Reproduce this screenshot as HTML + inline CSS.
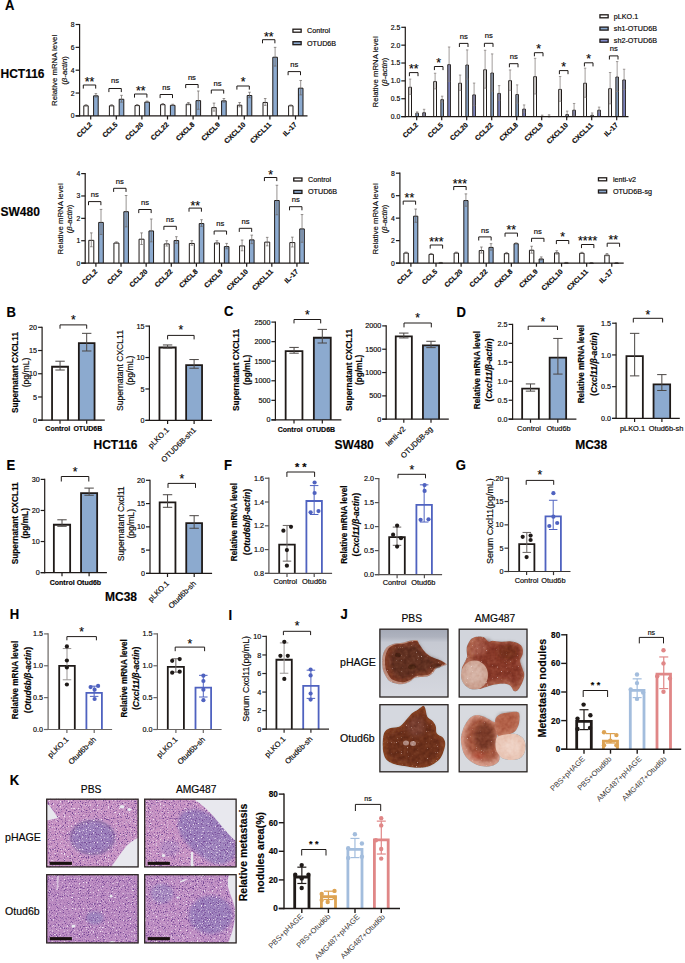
<!DOCTYPE html>
<html><head><meta charset="utf-8"><title>Figure</title>
<style>
html,body{margin:0;padding:0;background:#fff;}
body{width:685px;height:963px;overflow:hidden;}
svg{display:block;font-family:"Liberation Sans",sans-serif;}
text{stroke:#1f1a18;stroke-width:0.18px;}
</style></head><body>
<svg width="685" height="963" viewBox="0 0 685 963">
<defs><filter id="soft" x="-10%" y="-10%" width="120%" height="120%"><feGaussianBlur stdDeviation="0.7"/></filter>
<filter id="soft2" x="-20%" y="-20%" width="140%" height="140%"><feGaussianBlur stdDeviation="1.6"/></filter>
<linearGradient id="bgTL" x1="0" y1="0" x2="0" y2="1"><stop offset="0" stop-color="#a4a9b6"/><stop offset="0.12" stop-color="#aeb2be"/><stop offset="0.2" stop-color="#c6c9d2"/><stop offset="1" stop-color="#d6d8df"/></linearGradient>
<radialGradient id="livTL" cx="0.45" cy="0.45" r="0.6"><stop offset="0" stop-color="#6e3524"/><stop offset="0.7" stop-color="#7c3e2a"/><stop offset="1" stop-color="#a86a55"/></radialGradient>
<radialGradient id="livTR" cx="0.6" cy="0.35" r="0.65"><stop offset="0" stop-color="#7a3222"/><stop offset="0.6" stop-color="#8c4232"/><stop offset="1" stop-color="#b06a58"/></radialGradient>
<radialGradient id="tumTR" cx="0.5" cy="0.45" r="0.55"><stop offset="0" stop-color="#ead3ca"/><stop offset="0.75" stop-color="#dfbdb0"/><stop offset="1" stop-color="#c99a8a"/></radialGradient>
<radialGradient id="livBL" cx="0.5" cy="0.55" r="0.6"><stop offset="0" stop-color="#74381f"/><stop offset="0.75" stop-color="#7c3c23"/><stop offset="1" stop-color="#8e4a2e"/></radialGradient>
<radialGradient id="livBR" cx="0.55" cy="0.45" r="0.6"><stop offset="0" stop-color="#8a4230"/><stop offset="0.6" stop-color="#9e5240"/><stop offset="1" stop-color="#d49a88"/></radialGradient>
<radialGradient id="tumBR" cx="0.5" cy="0.5" r="0.55"><stop offset="0" stop-color="#efd7ca"/><stop offset="0.8" stop-color="#e6c7b8"/><stop offset="1" stop-color="#d9ae9c"/></radialGradient>
<clipPath id="ph0"><rect x="379.3" y="628.6" width="69.3" height="69"/></clipPath>
<clipPath id="ph1"><rect x="458.6" y="628.6" width="69" height="69"/></clipPath>
<clipPath id="ph2"><rect x="379.3" y="704.1" width="69.3" height="68.3"/></clipPath>
<clipPath id="ph3"><rect x="458.6" y="704.1" width="69" height="68.3"/></clipPath>
<filter id="b1" x="-20%" y="-20%" width="140%" height="140%"><feGaussianBlur stdDeviation="0.5"/></filter>
<filter id="b2" x="-30%" y="-30%" width="160%" height="160%"><feGaussianBlur stdDeviation="2.2"/></filter>
<filter id="b3" x="-30%" y="-30%" width="160%" height="160%"><feGaussianBlur stdDeviation="3.5"/></filter>
<filter id="ltex" x="0" y="0" width="100%" height="100%" color-interpolation-filters="sRGB"><feTurbulence type="fractalNoise" baseFrequency="0.25" numOctaves="2" seed="4" result="n"/><feColorMatrix in="n" type="matrix" values="0.35 0 0 0 0.3  0.35 0 0 0 0.3  0.35 0 0 0 0.3  0 0 0 0 1" result="g"/><feBlend in="g" in2="SourceGraphic" mode="soft-light" result="b"/><feComposite in="b" in2="SourceGraphic" operator="in"/></filter>
<filter id="glint" x="0" y="0" width="100%" height="100%" color-interpolation-filters="sRGB"><feTurbulence type="fractalNoise" baseFrequency="0.8" numOctaves="1" seed="9" result="n"/><feColorMatrix in="n" type="matrix" values="0 0 0 0 1  0 0 0 0 0.95  0 0 0 0 0.95  12 0 0 0 -8.4"/><feComposite in2="SourceGraphic" operator="in"/><feGaussianBlur stdDeviation="0.3"/></filter>
<clipPath id="hk0"><rect x="46.1" y="798.6" width="92.6" height="68.9"/></clipPath>
<clipPath id="hk1"><rect x="144.1" y="798.6" width="92.6" height="68.9"/></clipPath>
<clipPath id="hk2"><rect x="46.1" y="874.1" width="92.6" height="69.4"/></clipPath>
<clipPath id="hk3"><rect x="144.1" y="874.1" width="92.6" height="69.4"/></clipPath>
<filter id="tex" x="0" y="0" width="100%" height="100%" color-interpolation-filters="sRGB"><feTurbulence type="fractalNoise" baseFrequency="0.87" numOctaves="1" seed="7" result="n1"/><feColorMatrix in="n1" type="matrix" values="0 0 0 0 0.45  0 0 0 0 0.27  0 0 0 0 0.58  6 0 0 0 -3.3" result="dk"/><feTurbulence type="fractalNoise" baseFrequency="0.73" numOctaves="1" seed="21" result="n2"/><feColorMatrix in="n2" type="matrix" values="0 0 0 0 0.95  0 0 0 0 0.9  0 0 0 0 0.95  6 0 0 0 -3.6" result="wh"/><feGaussianBlur in="dk" stdDeviation="0.35" result="dkb"/><feGaussianBlur in="wh" stdDeviation="0.35" result="whb"/><feMerge result="m"><feMergeNode in="SourceGraphic"/><feMergeNode in="dkb"/><feMergeNode in="whb"/></feMerge><feComposite in="m" in2="SourceGraphic" operator="in"/></filter></defs>
<rect width="685" height="963" fill="#fff"/>
<text transform="translate(5.07 10.3) scale(0.92 1)" font-size="14.2" font-weight="bold">A</text>
<text x="0.5" y="78" font-size="12" font-weight="bold">HCT116</text>
<text x="0.5" y="216" font-size="12" font-weight="bold">SW480</text>
<path d="M83.8 115.9V105.77H88.2V115.9" fill="#fff" stroke="#1f1a18" stroke-width="1"/>
<path d="M93.6 115.9V95.84H98.2V115.9" fill="#8caacf" stroke="#1f1a18" stroke-width="1"/>
<line x1="86" y1="104.7" x2="86" y2="105.85" stroke="#6a6462" stroke-width="0.7"/>
<line x1="84.7" y1="104.7" x2="87.3" y2="104.7" stroke="#6a6462" stroke-width="0.7"/>
<line x1="84.7" y1="105.85" x2="87.3" y2="105.85" stroke="#6a6462" stroke-width="0.7"/>
<line x1="95.9" y1="93.62" x2="95.9" y2="97.05" stroke="#6a6462" stroke-width="0.7"/>
<line x1="94.6" y1="93.62" x2="97.2" y2="93.62" stroke="#6a6462" stroke-width="0.7"/>
<line x1="94.6" y1="97.05" x2="97.2" y2="97.05" stroke="#6a6462" stroke-width="0.7"/>
<path d="M109.4 115.9V105.77H113.8V115.9" fill="#fff" stroke="#1f1a18" stroke-width="1"/>
<path d="M119.2 115.9V99.26H123.8V115.9" fill="#8caacf" stroke="#1f1a18" stroke-width="1"/>
<line x1="111.6" y1="104.7" x2="111.6" y2="105.85" stroke="#6a6462" stroke-width="0.7"/>
<line x1="110.3" y1="104.7" x2="112.9" y2="104.7" stroke="#6a6462" stroke-width="0.7"/>
<line x1="110.3" y1="105.85" x2="112.9" y2="105.85" stroke="#6a6462" stroke-width="0.7"/>
<line x1="121.5" y1="95.34" x2="121.5" y2="102.19" stroke="#6a6462" stroke-width="0.7"/>
<line x1="120.2" y1="95.34" x2="122.8" y2="95.34" stroke="#6a6462" stroke-width="0.7"/>
<line x1="120.2" y1="102.19" x2="122.8" y2="102.19" stroke="#6a6462" stroke-width="0.7"/>
<path d="M135 115.9V105.55H139.4V115.9" fill="#fff" stroke="#1f1a18" stroke-width="1"/>
<path d="M144.8 115.9V102.12H149.4V115.9" fill="#8caacf" stroke="#1f1a18" stroke-width="1"/>
<line x1="137.2" y1="104.48" x2="137.2" y2="105.62" stroke="#6a6462" stroke-width="0.7"/>
<line x1="135.9" y1="104.48" x2="138.5" y2="104.48" stroke="#6a6462" stroke-width="0.7"/>
<line x1="135.9" y1="105.62" x2="138.5" y2="105.62" stroke="#6a6462" stroke-width="0.7"/>
<line x1="147.1" y1="101.05" x2="147.1" y2="102.19" stroke="#6a6462" stroke-width="0.7"/>
<line x1="145.8" y1="101.05" x2="148.4" y2="101.05" stroke="#6a6462" stroke-width="0.7"/>
<line x1="145.8" y1="102.19" x2="148.4" y2="102.19" stroke="#6a6462" stroke-width="0.7"/>
<path d="M160.6 115.9V104.63H165V115.9" fill="#fff" stroke="#1f1a18" stroke-width="1"/>
<path d="M170.4 115.9V105.32H175V115.9" fill="#8caacf" stroke="#1f1a18" stroke-width="1"/>
<line x1="162.8" y1="103.56" x2="162.8" y2="104.7" stroke="#6a6462" stroke-width="0.7"/>
<line x1="161.5" y1="103.56" x2="164.1" y2="103.56" stroke="#6a6462" stroke-width="0.7"/>
<line x1="161.5" y1="104.7" x2="164.1" y2="104.7" stroke="#6a6462" stroke-width="0.7"/>
<line x1="172.7" y1="104.25" x2="172.7" y2="105.39" stroke="#6a6462" stroke-width="0.7"/>
<line x1="171.4" y1="104.25" x2="174" y2="104.25" stroke="#6a6462" stroke-width="0.7"/>
<line x1="171.4" y1="105.39" x2="174" y2="105.39" stroke="#6a6462" stroke-width="0.7"/>
<path d="M186.2 115.9V104.18H190.6V115.9" fill="#fff" stroke="#1f1a18" stroke-width="1"/>
<path d="M196 115.9V100.63H200.6V115.9" fill="#8caacf" stroke="#1f1a18" stroke-width="1"/>
<line x1="188.4" y1="102.53" x2="188.4" y2="104.82" stroke="#6a6462" stroke-width="0.7"/>
<line x1="187.1" y1="102.53" x2="189.7" y2="102.53" stroke="#6a6462" stroke-width="0.7"/>
<line x1="187.1" y1="104.82" x2="189.7" y2="104.82" stroke="#6a6462" stroke-width="0.7"/>
<line x1="198.3" y1="90.99" x2="198.3" y2="109.27" stroke="#6a6462" stroke-width="0.7"/>
<line x1="197" y1="90.99" x2="199.6" y2="90.99" stroke="#6a6462" stroke-width="0.7"/>
<line x1="197" y1="109.27" x2="199.6" y2="109.27" stroke="#6a6462" stroke-width="0.7"/>
<path d="M211.8 115.9V107.6H216.2V115.9" fill="#fff" stroke="#1f1a18" stroke-width="1"/>
<path d="M221.6 115.9V100.86H226.2V115.9" fill="#8caacf" stroke="#1f1a18" stroke-width="1"/>
<line x1="214" y1="103.1" x2="214" y2="111.1" stroke="#6a6462" stroke-width="0.7"/>
<line x1="212.7" y1="103.1" x2="215.3" y2="103.1" stroke="#6a6462" stroke-width="0.7"/>
<line x1="212.7" y1="111.1" x2="215.3" y2="111.1" stroke="#6a6462" stroke-width="0.7"/>
<line x1="223.9" y1="98.53" x2="223.9" y2="102.19" stroke="#6a6462" stroke-width="0.7"/>
<line x1="222.6" y1="98.53" x2="225.2" y2="98.53" stroke="#6a6462" stroke-width="0.7"/>
<line x1="222.6" y1="102.19" x2="225.2" y2="102.19" stroke="#6a6462" stroke-width="0.7"/>
<path d="M237.4 115.9V105.2H241.8V115.9" fill="#fff" stroke="#1f1a18" stroke-width="1"/>
<path d="M247.2 115.9V95.49H251.8V115.9" fill="#8caacf" stroke="#1f1a18" stroke-width="1"/>
<line x1="239.6" y1="102.53" x2="239.6" y2="106.87" stroke="#6a6462" stroke-width="0.7"/>
<line x1="238.3" y1="102.53" x2="240.9" y2="102.53" stroke="#6a6462" stroke-width="0.7"/>
<line x1="238.3" y1="106.87" x2="240.9" y2="106.87" stroke="#6a6462" stroke-width="0.7"/>
<line x1="249.5" y1="92.25" x2="249.5" y2="97.73" stroke="#6a6462" stroke-width="0.7"/>
<line x1="248.2" y1="92.25" x2="250.8" y2="92.25" stroke="#6a6462" stroke-width="0.7"/>
<line x1="248.2" y1="97.73" x2="250.8" y2="97.73" stroke="#6a6462" stroke-width="0.7"/>
<path d="M263 115.9V102.46H267.4V115.9" fill="#fff" stroke="#1f1a18" stroke-width="1"/>
<path d="M272.8 115.9V57.22H277.4V115.9" fill="#8caacf" stroke="#1f1a18" stroke-width="1"/>
<line x1="265.2" y1="98.53" x2="265.2" y2="105.39" stroke="#6a6462" stroke-width="0.7"/>
<line x1="263.9" y1="98.53" x2="266.5" y2="98.53" stroke="#6a6462" stroke-width="0.7"/>
<line x1="263.9" y1="105.39" x2="266.5" y2="105.39" stroke="#6a6462" stroke-width="0.7"/>
<line x1="275.1" y1="47.35" x2="275.1" y2="66.09" stroke="#6a6462" stroke-width="0.7"/>
<line x1="273.8" y1="47.35" x2="276.4" y2="47.35" stroke="#6a6462" stroke-width="0.7"/>
<line x1="273.8" y1="66.09" x2="276.4" y2="66.09" stroke="#6a6462" stroke-width="0.7"/>
<path d="M288.6 115.9V105.77H293V115.9" fill="#fff" stroke="#1f1a18" stroke-width="1"/>
<path d="M298.4 115.9V88.18H303V115.9" fill="#8caacf" stroke="#1f1a18" stroke-width="1"/>
<line x1="290.8" y1="104.93" x2="290.8" y2="105.62" stroke="#6a6462" stroke-width="0.7"/>
<line x1="289.5" y1="104.93" x2="292.1" y2="104.93" stroke="#6a6462" stroke-width="0.7"/>
<line x1="289.5" y1="105.62" x2="292.1" y2="105.62" stroke="#6a6462" stroke-width="0.7"/>
<line x1="300.7" y1="80.48" x2="300.7" y2="94.88" stroke="#6a6462" stroke-width="0.7"/>
<line x1="299.4" y1="80.48" x2="302" y2="80.48" stroke="#6a6462" stroke-width="0.7"/>
<line x1="299.4" y1="94.88" x2="302" y2="94.88" stroke="#6a6462" stroke-width="0.7"/>
<path d="M83.3 88.6V85H95.7V88.6" fill="none" stroke="#1f1a18" stroke-width="1"/>
<text x="89.5" y="86.4" font-size="12.31" text-anchor="middle">**</text>
<path d="M108.9 92.1V88.5H121.3V92.1" fill="none" stroke="#1f1a18" stroke-width="1"/>
<text x="115.1" y="83.35" font-size="7.6" text-anchor="middle">ns</text>
<path d="M134.5 97.6V94H146.9V97.6" fill="none" stroke="#1f1a18" stroke-width="1"/>
<text x="140.7" y="95.4" font-size="12.31" text-anchor="middle">**</text>
<path d="M160.1 98.1V94.5H172.5V98.1" fill="none" stroke="#1f1a18" stroke-width="1"/>
<text x="166.3" y="89.85" font-size="7.6" text-anchor="middle">ns</text>
<path d="M185.7 88.1V84.5H198.1V88.1" fill="none" stroke="#1f1a18" stroke-width="1"/>
<text x="191.9" y="80.05" font-size="7.6" text-anchor="middle">ns</text>
<path d="M211.3 93.6V90H223.7V93.6" fill="none" stroke="#1f1a18" stroke-width="1"/>
<text x="217.5" y="85.75" font-size="7.6" text-anchor="middle">ns</text>
<path d="M236.9 89.6V86H249.3V89.6" fill="none" stroke="#1f1a18" stroke-width="1"/>
<text x="243.1" y="86.4" font-size="12.31" text-anchor="middle">*</text>
<path d="M262.5 43.3V39.7H274.9V43.3" fill="none" stroke="#1f1a18" stroke-width="1"/>
<text x="268.7" y="40.7" font-size="12.31" text-anchor="middle">**</text>
<path d="M288.1 75.2V71.6H300.5V75.2" fill="none" stroke="#1f1a18" stroke-width="1"/>
<text x="294.3" y="66.85" font-size="7.6" text-anchor="middle">ns</text>
<line x1="79.6" y1="23.9" x2="79.6" y2="116.5" stroke="#1f1a18" stroke-width="1.2"/>
<line x1="75.6" y1="115.9" x2="79.6" y2="115.9" stroke="#1f1a18" stroke-width="1.2"/>
<text x="74.6" y="118.35" font-size="6.8" text-anchor="end">0</text>
<line x1="75.6" y1="93.05" x2="79.6" y2="93.05" stroke="#1f1a18" stroke-width="1.2"/>
<text x="74.6" y="95.5" font-size="6.8" text-anchor="end">2</text>
<line x1="75.6" y1="70.2" x2="79.6" y2="70.2" stroke="#1f1a18" stroke-width="1.2"/>
<text x="74.6" y="72.65" font-size="6.8" text-anchor="end">4</text>
<line x1="75.6" y1="47.35" x2="79.6" y2="47.35" stroke="#1f1a18" stroke-width="1.2"/>
<text x="74.6" y="49.8" font-size="6.8" text-anchor="end">6</text>
<line x1="75.6" y1="24.5" x2="79.6" y2="24.5" stroke="#1f1a18" stroke-width="1.2"/>
<text x="74.6" y="26.95" font-size="6.8" text-anchor="end">8</text>
<line x1="75.6" y1="115.9" x2="307.5" y2="115.9" stroke="#1f1a18" stroke-width="1.2"/>
<line x1="90.7" y1="115.9" x2="90.7" y2="119.5" stroke="#1f1a18" stroke-width="1.2"/>
<line x1="116.3" y1="115.9" x2="116.3" y2="119.5" stroke="#1f1a18" stroke-width="1.2"/>
<line x1="141.9" y1="115.9" x2="141.9" y2="119.5" stroke="#1f1a18" stroke-width="1.2"/>
<line x1="167.5" y1="115.9" x2="167.5" y2="119.5" stroke="#1f1a18" stroke-width="1.2"/>
<line x1="193.1" y1="115.9" x2="193.1" y2="119.5" stroke="#1f1a18" stroke-width="1.2"/>
<line x1="218.7" y1="115.9" x2="218.7" y2="119.5" stroke="#1f1a18" stroke-width="1.2"/>
<line x1="244.3" y1="115.9" x2="244.3" y2="119.5" stroke="#1f1a18" stroke-width="1.2"/>
<line x1="269.9" y1="115.9" x2="269.9" y2="119.5" stroke="#1f1a18" stroke-width="1.2"/>
<line x1="295.5" y1="115.9" x2="295.5" y2="119.5" stroke="#1f1a18" stroke-width="1.2"/>
<text x="92.5" y="125.1" font-size="7" text-anchor="end" font-weight="bold" transform="rotate(-45 92.5 125.1)">CCL2</text>
<text x="118.1" y="125.1" font-size="7" text-anchor="end" font-weight="bold" transform="rotate(-45 118.1 125.1)">CCL5</text>
<text x="143.7" y="125.1" font-size="7" text-anchor="end" font-weight="bold" transform="rotate(-45 143.7 125.1)">CCL20</text>
<text x="169.3" y="125.1" font-size="7" text-anchor="end" font-weight="bold" transform="rotate(-45 169.3 125.1)">CCL22</text>
<text x="194.9" y="125.1" font-size="7" text-anchor="end" font-weight="bold" transform="rotate(-45 194.9 125.1)">CXCL8</text>
<text x="220.5" y="125.1" font-size="7" text-anchor="end" font-weight="bold" transform="rotate(-45 220.5 125.1)">CXCL9</text>
<text x="246.1" y="125.1" font-size="7" text-anchor="end" font-weight="bold" transform="rotate(-45 246.1 125.1)">CXCL10</text>
<text x="271.7" y="125.1" font-size="7" text-anchor="end" font-weight="bold" transform="rotate(-45 271.7 125.1)">CXCL11</text>
<text x="297.3" y="125.1" font-size="7" text-anchor="end" font-weight="bold" transform="rotate(-45 297.3 125.1)">IL-17</text>
<text x="57.11" y="70.4" font-size="7.8" text-anchor="middle" transform="rotate(-90 57.11 70.4)">Relative mRNA level</text>
<text x="67.11" y="70.4" font-size="7.8" text-anchor="middle" transform="rotate(-90 67.11 70.4)">(<tspan font-style="italic">β-actin</tspan>)</text>
<rect x="292.95" y="29.2" width="8.2" height="3" fill="#fff" stroke="#1f1a18" stroke-width="1.3"/>
<text x="307" y="33.29" font-size="7.2">Control</text>
<rect x="292.95" y="41.7" width="8.2" height="3" fill="#8caacf" stroke="#1f1a18" stroke-width="1.3"/>
<text x="307" y="45.79" font-size="7.2">OTUD6B</text>
<path d="M408.7 116.6V87.22H411.5V116.6" fill="#fff" stroke="#1f1a18" stroke-width="1"/>
<line x1="410.1" y1="79.07" x2="410.1" y2="94.38" stroke="#8a8482" stroke-width="0.8"/>
<line x1="408.9" y1="79.07" x2="411.3" y2="79.07" stroke="#8a8482" stroke-width="0.8"/>
<line x1="408.9" y1="94.38" x2="411.3" y2="94.38" stroke="#8a8482" stroke-width="0.8"/>
<path d="M415.9 116.6V113.09H418.4V116.6" fill="#8caacf" stroke="#1f1a18" stroke-width="1"/>
<line x1="417.15" y1="111.86" x2="417.15" y2="113.32" stroke="#8a8482" stroke-width="0.8"/>
<line x1="415.95" y1="111.86" x2="418.35" y2="111.86" stroke="#8a8482" stroke-width="0.8"/>
<line x1="415.95" y1="113.32" x2="418.35" y2="113.32" stroke="#8a8482" stroke-width="0.8"/>
<path d="M422.8 116.6V112.73H425.4V116.6" fill="#868ecf" stroke="#1f1a18" stroke-width="1"/>
<line x1="424.1" y1="109.31" x2="424.1" y2="115.14" stroke="#8a8482" stroke-width="0.8"/>
<line x1="422.9" y1="109.31" x2="425.3" y2="109.31" stroke="#8a8482" stroke-width="0.8"/>
<line x1="422.9" y1="115.14" x2="425.3" y2="115.14" stroke="#8a8482" stroke-width="0.8"/>
<path d="M433.7 116.6V81.58H436.5V116.6" fill="#fff" stroke="#1f1a18" stroke-width="1"/>
<line x1="435.1" y1="73.24" x2="435.1" y2="88.91" stroke="#8a8482" stroke-width="0.8"/>
<line x1="433.9" y1="73.24" x2="436.3" y2="73.24" stroke="#8a8482" stroke-width="0.8"/>
<line x1="433.9" y1="88.91" x2="436.3" y2="88.91" stroke="#8a8482" stroke-width="0.8"/>
<path d="M440.9 116.6V99.61H443.4V116.6" fill="#8caacf" stroke="#1f1a18" stroke-width="1"/>
<line x1="442.15" y1="96.2" x2="442.15" y2="102.03" stroke="#8a8482" stroke-width="0.8"/>
<line x1="440.95" y1="96.2" x2="443.35" y2="96.2" stroke="#8a8482" stroke-width="0.8"/>
<line x1="440.95" y1="102.03" x2="443.35" y2="102.03" stroke="#8a8482" stroke-width="0.8"/>
<path d="M447.8 116.6V64.63H450.4V116.6" fill="#868ecf" stroke="#1f1a18" stroke-width="1"/>
<line x1="449.1" y1="47.01" x2="449.1" y2="81.26" stroke="#8a8482" stroke-width="0.8"/>
<line x1="447.9" y1="47.01" x2="450.3" y2="47.01" stroke="#8a8482" stroke-width="0.8"/>
<line x1="447.9" y1="81.26" x2="450.3" y2="81.26" stroke="#8a8482" stroke-width="0.8"/>
<path d="M458.7 116.6V83.22H461.5V116.6" fill="#fff" stroke="#1f1a18" stroke-width="1"/>
<line x1="460.1" y1="75.06" x2="460.1" y2="90.37" stroke="#8a8482" stroke-width="0.8"/>
<line x1="458.9" y1="75.06" x2="461.3" y2="75.06" stroke="#8a8482" stroke-width="0.8"/>
<line x1="458.9" y1="90.37" x2="461.3" y2="90.37" stroke="#8a8482" stroke-width="0.8"/>
<path d="M465.9 116.6V65H468.4V116.6" fill="#8caacf" stroke="#1f1a18" stroke-width="1"/>
<line x1="467.15" y1="49.93" x2="467.15" y2="79.07" stroke="#8a8482" stroke-width="0.8"/>
<line x1="465.95" y1="49.93" x2="468.35" y2="49.93" stroke="#8a8482" stroke-width="0.8"/>
<line x1="465.95" y1="79.07" x2="468.35" y2="79.07" stroke="#8a8482" stroke-width="0.8"/>
<path d="M472.8 116.6V94.88H475.4V116.6" fill="#868ecf" stroke="#1f1a18" stroke-width="1"/>
<line x1="474.1" y1="83.08" x2="474.1" y2="105.67" stroke="#8a8482" stroke-width="0.8"/>
<line x1="472.9" y1="83.08" x2="475.3" y2="83.08" stroke="#8a8482" stroke-width="0.8"/>
<line x1="472.9" y1="105.67" x2="475.3" y2="105.67" stroke="#8a8482" stroke-width="0.8"/>
<path d="M483.7 116.6V69.74H486.5V116.6" fill="#fff" stroke="#1f1a18" stroke-width="1"/>
<line x1="485.1" y1="50.29" x2="485.1" y2="88.18" stroke="#8a8482" stroke-width="0.8"/>
<line x1="483.9" y1="50.29" x2="486.3" y2="50.29" stroke="#8a8482" stroke-width="0.8"/>
<line x1="483.9" y1="88.18" x2="486.3" y2="88.18" stroke="#8a8482" stroke-width="0.8"/>
<path d="M490.9 116.6V73.01H493.4V116.6" fill="#8caacf" stroke="#1f1a18" stroke-width="1"/>
<line x1="492.15" y1="53.93" x2="492.15" y2="91.1" stroke="#8a8482" stroke-width="0.8"/>
<line x1="490.95" y1="53.93" x2="493.35" y2="53.93" stroke="#8a8482" stroke-width="0.8"/>
<line x1="490.95" y1="91.1" x2="493.35" y2="91.1" stroke="#8a8482" stroke-width="0.8"/>
<path d="M497.8 116.6V93.42H500.4V116.6" fill="#868ecf" stroke="#1f1a18" stroke-width="1"/>
<line x1="499.1" y1="85.63" x2="499.1" y2="100.2" stroke="#8a8482" stroke-width="0.8"/>
<line x1="497.9" y1="85.63" x2="500.3" y2="85.63" stroke="#8a8482" stroke-width="0.8"/>
<line x1="497.9" y1="100.2" x2="500.3" y2="100.2" stroke="#8a8482" stroke-width="0.8"/>
<path d="M508.7 116.6V80.67H511.5V116.6" fill="#fff" stroke="#1f1a18" stroke-width="1"/>
<line x1="510.1" y1="69.96" x2="510.1" y2="90.37" stroke="#8a8482" stroke-width="0.8"/>
<line x1="508.9" y1="69.96" x2="511.3" y2="69.96" stroke="#8a8482" stroke-width="0.8"/>
<line x1="508.9" y1="90.37" x2="511.3" y2="90.37" stroke="#8a8482" stroke-width="0.8"/>
<path d="M515.9 116.6V94.51H518.4V116.6" fill="#8caacf" stroke="#1f1a18" stroke-width="1"/>
<line x1="517.15" y1="84.9" x2="517.15" y2="103.12" stroke="#8a8482" stroke-width="0.8"/>
<line x1="515.95" y1="84.9" x2="518.35" y2="84.9" stroke="#8a8482" stroke-width="0.8"/>
<line x1="515.95" y1="103.12" x2="518.35" y2="103.12" stroke="#8a8482" stroke-width="0.8"/>
<path d="M522.8 116.6V109.08H525.4V116.6" fill="#868ecf" stroke="#1f1a18" stroke-width="1"/>
<line x1="524.1" y1="104.94" x2="524.1" y2="112.23" stroke="#8a8482" stroke-width="0.8"/>
<line x1="522.9" y1="104.94" x2="525.3" y2="104.94" stroke="#8a8482" stroke-width="0.8"/>
<line x1="522.9" y1="112.23" x2="525.3" y2="112.23" stroke="#8a8482" stroke-width="0.8"/>
<path d="M533.7 116.6V76.66H536.5V116.6" fill="#fff" stroke="#1f1a18" stroke-width="1"/>
<line x1="535.1" y1="58.3" x2="535.1" y2="94.01" stroke="#8a8482" stroke-width="0.8"/>
<line x1="533.9" y1="58.3" x2="536.3" y2="58.3" stroke="#8a8482" stroke-width="0.8"/>
<line x1="533.9" y1="94.01" x2="536.3" y2="94.01" stroke="#8a8482" stroke-width="0.8"/>
<path d="M540.9 116.6V116.37H543.4V116.6" fill="#8caacf" stroke="#1f1a18" stroke-width="1"/>
<line x1="542.15" y1="115.14" x2="542.15" y2="116.6" stroke="#8a8482" stroke-width="0.8"/>
<line x1="540.95" y1="115.14" x2="543.35" y2="115.14" stroke="#8a8482" stroke-width="0.8"/>
<line x1="540.95" y1="116.6" x2="543.35" y2="116.6" stroke="#8a8482" stroke-width="0.8"/>
<path d="M547.8 116.6V116.37H550.4V116.6" fill="#868ecf" stroke="#1f1a18" stroke-width="1"/>
<line x1="549.1" y1="114.78" x2="549.1" y2="116.96" stroke="#8a8482" stroke-width="0.8"/>
<line x1="547.9" y1="114.78" x2="550.3" y2="114.78" stroke="#8a8482" stroke-width="0.8"/>
<line x1="547.9" y1="116.96" x2="550.3" y2="116.96" stroke="#8a8482" stroke-width="0.8"/>
<path d="M558.7 116.6V89.41H561.5V116.6" fill="#fff" stroke="#1f1a18" stroke-width="1"/>
<line x1="560.1" y1="76.52" x2="560.1" y2="101.3" stroke="#8a8482" stroke-width="0.8"/>
<line x1="558.9" y1="76.52" x2="561.3" y2="76.52" stroke="#8a8482" stroke-width="0.8"/>
<line x1="558.9" y1="101.3" x2="561.3" y2="101.3" stroke="#8a8482" stroke-width="0.8"/>
<path d="M565.9 116.6V114.55H568.4V116.6" fill="#8caacf" stroke="#1f1a18" stroke-width="1"/>
<line x1="567.15" y1="111.13" x2="567.15" y2="116.96" stroke="#8a8482" stroke-width="0.8"/>
<line x1="565.95" y1="111.13" x2="568.35" y2="111.13" stroke="#8a8482" stroke-width="0.8"/>
<line x1="565.95" y1="116.96" x2="568.35" y2="116.96" stroke="#8a8482" stroke-width="0.8"/>
<path d="M572.8 116.6V110.18H575.4V116.6" fill="#868ecf" stroke="#1f1a18" stroke-width="1"/>
<line x1="574.1" y1="103.48" x2="574.1" y2="115.87" stroke="#8a8482" stroke-width="0.8"/>
<line x1="572.9" y1="103.48" x2="575.3" y2="103.48" stroke="#8a8482" stroke-width="0.8"/>
<line x1="572.9" y1="115.87" x2="575.3" y2="115.87" stroke="#8a8482" stroke-width="0.8"/>
<path d="M583.7 116.6V83.22H586.5V116.6" fill="#fff" stroke="#1f1a18" stroke-width="1"/>
<line x1="585.1" y1="68.14" x2="585.1" y2="97.29" stroke="#8a8482" stroke-width="0.8"/>
<line x1="583.9" y1="68.14" x2="586.3" y2="68.14" stroke="#8a8482" stroke-width="0.8"/>
<line x1="583.9" y1="97.29" x2="586.3" y2="97.29" stroke="#8a8482" stroke-width="0.8"/>
<path d="M590.9 116.6V115.28H593.4V116.6" fill="#8caacf" stroke="#1f1a18" stroke-width="1"/>
<line x1="592.15" y1="112.96" x2="592.15" y2="116.6" stroke="#8a8482" stroke-width="0.8"/>
<line x1="590.95" y1="112.96" x2="593.35" y2="112.96" stroke="#8a8482" stroke-width="0.8"/>
<line x1="590.95" y1="116.6" x2="593.35" y2="116.6" stroke="#8a8482" stroke-width="0.8"/>
<path d="M597.8 116.6V110.18H600.4V116.6" fill="#868ecf" stroke="#1f1a18" stroke-width="1"/>
<line x1="599.1" y1="107.13" x2="599.1" y2="112.23" stroke="#8a8482" stroke-width="0.8"/>
<line x1="597.9" y1="107.13" x2="600.3" y2="107.13" stroke="#8a8482" stroke-width="0.8"/>
<line x1="597.9" y1="112.23" x2="600.3" y2="112.23" stroke="#8a8482" stroke-width="0.8"/>
<path d="M608.7 116.6V88.68H611.5V116.6" fill="#fff" stroke="#1f1a18" stroke-width="1"/>
<line x1="610.1" y1="72.51" x2="610.1" y2="103.85" stroke="#8a8482" stroke-width="0.8"/>
<line x1="608.9" y1="72.51" x2="611.3" y2="72.51" stroke="#8a8482" stroke-width="0.8"/>
<line x1="608.9" y1="103.85" x2="611.3" y2="103.85" stroke="#8a8482" stroke-width="0.8"/>
<path d="M615.9 116.6V77.02H618.4V116.6" fill="#8caacf" stroke="#1f1a18" stroke-width="1"/>
<line x1="617.15" y1="61.58" x2="617.15" y2="91.46" stroke="#8a8482" stroke-width="0.8"/>
<line x1="615.95" y1="61.58" x2="618.35" y2="61.58" stroke="#8a8482" stroke-width="0.8"/>
<line x1="615.95" y1="91.46" x2="618.35" y2="91.46" stroke="#8a8482" stroke-width="0.8"/>
<path d="M622.8 116.6V79.94H625.4V116.6" fill="#868ecf" stroke="#1f1a18" stroke-width="1"/>
<line x1="624.1" y1="69.24" x2="624.1" y2="89.64" stroke="#8a8482" stroke-width="0.8"/>
<line x1="622.9" y1="69.24" x2="625.3" y2="69.24" stroke="#8a8482" stroke-width="0.8"/>
<line x1="622.9" y1="89.64" x2="625.3" y2="89.64" stroke="#8a8482" stroke-width="0.8"/>
<path d="M409.4 76.2V72.6H418V76.2" fill="none" stroke="#1f1a18" stroke-width="1"/>
<text x="413.7" y="72.5" font-size="12.31" text-anchor="middle">**</text>
<path d="M434.4 70.1V66.5H443V70.1" fill="none" stroke="#1f1a18" stroke-width="1"/>
<text x="438.7" y="66.7" font-size="12.31" text-anchor="middle">*</text>
<path d="M459.4 47V43.4H468V47" fill="none" stroke="#1f1a18" stroke-width="1"/>
<text x="463.7" y="39.05" font-size="7.6" text-anchor="middle">ns</text>
<path d="M484.4 46.9V43.3H493V46.9" fill="none" stroke="#1f1a18" stroke-width="1"/>
<text x="488.7" y="38.15" font-size="7.6" text-anchor="middle">ns</text>
<path d="M509.4 67.3V63.7H518V67.3" fill="none" stroke="#1f1a18" stroke-width="1"/>
<text x="513.7" y="59.45" font-size="7.6" text-anchor="middle">ns</text>
<path d="M534.4 56.3V52.7H543V56.3" fill="none" stroke="#1f1a18" stroke-width="1"/>
<text x="538.7" y="52.9" font-size="12.31" text-anchor="middle">*</text>
<path d="M559.4 74.2V70.6H568V74.2" fill="none" stroke="#1f1a18" stroke-width="1"/>
<text x="563.7" y="70.7" font-size="12.31" text-anchor="middle">*</text>
<path d="M584.4 66.4V62.8H593V66.4" fill="none" stroke="#1f1a18" stroke-width="1"/>
<text x="588.7" y="62.9" font-size="12.31" text-anchor="middle">*</text>
<path d="M609.4 59.5V55.9H618V59.5" fill="none" stroke="#1f1a18" stroke-width="1"/>
<text x="613.7" y="51.35" font-size="7.6" text-anchor="middle">ns</text>
<line x1="405.3" y1="26.7" x2="405.3" y2="117.2" stroke="#1f1a18" stroke-width="1.2"/>
<line x1="401.3" y1="116.6" x2="405.3" y2="116.6" stroke="#1f1a18" stroke-width="1.2"/>
<text x="400.3" y="119.05" font-size="6.8" text-anchor="end">0.0</text>
<line x1="401.3" y1="98.74" x2="405.3" y2="98.74" stroke="#1f1a18" stroke-width="1.2"/>
<text x="400.3" y="101.19" font-size="6.8" text-anchor="end">0.5</text>
<line x1="401.3" y1="80.88" x2="405.3" y2="80.88" stroke="#1f1a18" stroke-width="1.2"/>
<text x="400.3" y="83.33" font-size="6.8" text-anchor="end">1.0</text>
<line x1="401.3" y1="63.02" x2="405.3" y2="63.02" stroke="#1f1a18" stroke-width="1.2"/>
<text x="400.3" y="65.47" font-size="6.8" text-anchor="end">1.5</text>
<line x1="401.3" y1="45.16" x2="405.3" y2="45.16" stroke="#1f1a18" stroke-width="1.2"/>
<text x="400.3" y="47.61" font-size="6.8" text-anchor="end">2.0</text>
<line x1="401.3" y1="27.3" x2="405.3" y2="27.3" stroke="#1f1a18" stroke-width="1.2"/>
<text x="400.3" y="29.75" font-size="6.8" text-anchor="end">2.5</text>
<line x1="401.3" y1="116.6" x2="628.5" y2="116.6" stroke="#1f1a18" stroke-width="1.2"/>
<line x1="416.7" y1="116.6" x2="416.7" y2="120.2" stroke="#1f1a18" stroke-width="1.2"/>
<line x1="441.7" y1="116.6" x2="441.7" y2="120.2" stroke="#1f1a18" stroke-width="1.2"/>
<line x1="466.7" y1="116.6" x2="466.7" y2="120.2" stroke="#1f1a18" stroke-width="1.2"/>
<line x1="491.7" y1="116.6" x2="491.7" y2="120.2" stroke="#1f1a18" stroke-width="1.2"/>
<line x1="516.7" y1="116.6" x2="516.7" y2="120.2" stroke="#1f1a18" stroke-width="1.2"/>
<line x1="541.7" y1="116.6" x2="541.7" y2="120.2" stroke="#1f1a18" stroke-width="1.2"/>
<line x1="566.7" y1="116.6" x2="566.7" y2="120.2" stroke="#1f1a18" stroke-width="1.2"/>
<line x1="591.7" y1="116.6" x2="591.7" y2="120.2" stroke="#1f1a18" stroke-width="1.2"/>
<line x1="616.7" y1="116.6" x2="616.7" y2="120.2" stroke="#1f1a18" stroke-width="1.2"/>
<text x="418.5" y="125.4" font-size="7" text-anchor="end" font-weight="bold" transform="rotate(-45 418.5 125.4)">CCL2</text>
<text x="443.5" y="125.4" font-size="7" text-anchor="end" font-weight="bold" transform="rotate(-45 443.5 125.4)">CCL5</text>
<text x="468.5" y="125.4" font-size="7" text-anchor="end" font-weight="bold" transform="rotate(-45 468.5 125.4)">CCL20</text>
<text x="493.5" y="125.4" font-size="7" text-anchor="end" font-weight="bold" transform="rotate(-45 493.5 125.4)">CCL22</text>
<text x="518.5" y="125.4" font-size="7" text-anchor="end" font-weight="bold" transform="rotate(-45 518.5 125.4)">CXCL8</text>
<text x="543.5" y="125.4" font-size="7" text-anchor="end" font-weight="bold" transform="rotate(-45 543.5 125.4)">CXCL9</text>
<text x="568.5" y="125.4" font-size="7" text-anchor="end" font-weight="bold" transform="rotate(-45 568.5 125.4)">CXCL10</text>
<text x="593.5" y="125.4" font-size="7" text-anchor="end" font-weight="bold" transform="rotate(-45 593.5 125.4)">CXCL11</text>
<text x="618.5" y="125.4" font-size="7" text-anchor="end" font-weight="bold" transform="rotate(-45 618.5 125.4)">IL-17</text>
<text x="377.81" y="71.9" font-size="7.8" text-anchor="middle" transform="rotate(-90 377.81 71.9)">Relative mRNA level</text>
<text x="386.61" y="71.9" font-size="7.8" text-anchor="middle" transform="rotate(-90 386.61 71.9)">(<tspan font-style="italic">β-actin</tspan>)</text>
<rect x="599.95" y="14.8" width="8.2" height="3" fill="#fff" stroke="#1f1a18" stroke-width="1.3"/>
<text x="613.8" y="18.89" font-size="7.2">pLKO.1</text>
<rect x="599.95" y="27.1" width="8.2" height="3" fill="#8caacf" stroke="#1f1a18" stroke-width="1.3"/>
<text x="613.8" y="31.19" font-size="7.2">sh1-OTUD6B</text>
<rect x="599.95" y="39.2" width="8.2" height="3" fill="#868ecf" stroke="#1f1a18" stroke-width="1.3"/>
<text x="613.8" y="43.29" font-size="7.2">sh2-OTUD6B</text>
<path d="M88.8 263.1V240.33H93.8V263.1" fill="#fff" stroke="#1f1a18" stroke-width="1"/>
<path d="M98.7 263.1V222.43H103.3V263.1" fill="#8caacf" stroke="#1f1a18" stroke-width="1"/>
<line x1="91.3" y1="232.89" x2="91.3" y2="246.77" stroke="#6a6462" stroke-width="0.7"/>
<line x1="90" y1="232.89" x2="92.6" y2="232.89" stroke="#6a6462" stroke-width="0.7"/>
<line x1="90" y1="246.77" x2="92.6" y2="246.77" stroke="#6a6462" stroke-width="0.7"/>
<line x1="101" y1="209.4" x2="101" y2="234.46" stroke="#6a6462" stroke-width="0.7"/>
<line x1="99.7" y1="209.4" x2="102.3" y2="209.4" stroke="#6a6462" stroke-width="0.7"/>
<line x1="99.7" y1="234.46" x2="102.3" y2="234.46" stroke="#6a6462" stroke-width="0.7"/>
<path d="M113.93 263.1V243.02H118.93V263.1" fill="#fff" stroke="#1f1a18" stroke-width="1"/>
<path d="M123.83 263.1V211.69H128.43V263.1" fill="#8caacf" stroke="#1f1a18" stroke-width="1"/>
<line x1="116.43" y1="241.84" x2="116.43" y2="243.19" stroke="#6a6462" stroke-width="0.7"/>
<line x1="115.13" y1="241.84" x2="117.73" y2="241.84" stroke="#6a6462" stroke-width="0.7"/>
<line x1="115.13" y1="243.19" x2="117.73" y2="243.19" stroke="#6a6462" stroke-width="0.7"/>
<line x1="126.13" y1="195.53" x2="126.13" y2="226.85" stroke="#6a6462" stroke-width="0.7"/>
<line x1="124.83" y1="195.53" x2="127.43" y2="195.53" stroke="#6a6462" stroke-width="0.7"/>
<line x1="124.83" y1="226.85" x2="127.43" y2="226.85" stroke="#6a6462" stroke-width="0.7"/>
<path d="M139.06 263.1V239.21H144.06V263.1" fill="#fff" stroke="#1f1a18" stroke-width="1"/>
<path d="M148.96 263.1V230.93H153.56V263.1" fill="#8caacf" stroke="#1f1a18" stroke-width="1"/>
<line x1="141.56" y1="232.89" x2="141.56" y2="244.53" stroke="#6a6462" stroke-width="0.7"/>
<line x1="140.26" y1="232.89" x2="142.86" y2="232.89" stroke="#6a6462" stroke-width="0.7"/>
<line x1="140.26" y1="244.53" x2="142.86" y2="244.53" stroke="#6a6462" stroke-width="0.7"/>
<line x1="151.26" y1="219.02" x2="151.26" y2="241.84" stroke="#6a6462" stroke-width="0.7"/>
<line x1="149.96" y1="219.02" x2="152.56" y2="219.02" stroke="#6a6462" stroke-width="0.7"/>
<line x1="149.96" y1="241.84" x2="152.56" y2="241.84" stroke="#6a6462" stroke-width="0.7"/>
<path d="M164.19 263.1V243.91H169.19V263.1" fill="#fff" stroke="#1f1a18" stroke-width="1"/>
<path d="M174.09 263.1V240.55H178.69V263.1" fill="#8caacf" stroke="#1f1a18" stroke-width="1"/>
<line x1="166.69" y1="240.73" x2="166.69" y2="246.1" stroke="#6a6462" stroke-width="0.7"/>
<line x1="165.39" y1="240.73" x2="167.99" y2="240.73" stroke="#6a6462" stroke-width="0.7"/>
<line x1="165.39" y1="246.1" x2="167.99" y2="246.1" stroke="#6a6462" stroke-width="0.7"/>
<line x1="176.39" y1="236.7" x2="176.39" y2="243.41" stroke="#6a6462" stroke-width="0.7"/>
<line x1="175.09" y1="236.7" x2="177.69" y2="236.7" stroke="#6a6462" stroke-width="0.7"/>
<line x1="175.09" y1="243.41" x2="177.69" y2="243.41" stroke="#6a6462" stroke-width="0.7"/>
<path d="M189.32 263.1V243.46H194.32V263.1" fill="#fff" stroke="#1f1a18" stroke-width="1"/>
<path d="M199.22 263.1V223.55H203.82V263.1" fill="#8caacf" stroke="#1f1a18" stroke-width="1"/>
<line x1="191.82" y1="240.73" x2="191.82" y2="245.2" stroke="#6a6462" stroke-width="0.7"/>
<line x1="190.52" y1="240.73" x2="193.12" y2="240.73" stroke="#6a6462" stroke-width="0.7"/>
<line x1="190.52" y1="245.2" x2="193.12" y2="245.2" stroke="#6a6462" stroke-width="0.7"/>
<line x1="201.52" y1="219.69" x2="201.52" y2="226.41" stroke="#6a6462" stroke-width="0.7"/>
<line x1="200.22" y1="219.69" x2="202.82" y2="219.69" stroke="#6a6462" stroke-width="0.7"/>
<line x1="200.22" y1="226.41" x2="202.82" y2="226.41" stroke="#6a6462" stroke-width="0.7"/>
<path d="M214.45 263.1V243.02H219.45V263.1" fill="#fff" stroke="#1f1a18" stroke-width="1"/>
<path d="M224.35 263.1V246.6H228.95V263.1" fill="#8caacf" stroke="#1f1a18" stroke-width="1"/>
<line x1="216.95" y1="240.73" x2="216.95" y2="244.31" stroke="#6a6462" stroke-width="0.7"/>
<line x1="215.65" y1="240.73" x2="218.25" y2="240.73" stroke="#6a6462" stroke-width="0.7"/>
<line x1="215.65" y1="244.31" x2="218.25" y2="244.31" stroke="#6a6462" stroke-width="0.7"/>
<line x1="226.65" y1="243.41" x2="226.65" y2="248.78" stroke="#6a6462" stroke-width="0.7"/>
<line x1="225.35" y1="243.41" x2="227.95" y2="243.41" stroke="#6a6462" stroke-width="0.7"/>
<line x1="225.35" y1="248.78" x2="227.95" y2="248.78" stroke="#6a6462" stroke-width="0.7"/>
<path d="M239.58 263.1V245.92H244.58V263.1" fill="#fff" stroke="#1f1a18" stroke-width="1"/>
<path d="M249.48 263.1V239.88H254.08V263.1" fill="#8caacf" stroke="#1f1a18" stroke-width="1"/>
<line x1="242.08" y1="240.05" x2="242.08" y2="250.79" stroke="#6a6462" stroke-width="0.7"/>
<line x1="240.78" y1="240.05" x2="243.38" y2="240.05" stroke="#6a6462" stroke-width="0.7"/>
<line x1="240.78" y1="250.79" x2="243.38" y2="250.79" stroke="#6a6462" stroke-width="0.7"/>
<line x1="251.78" y1="235.13" x2="251.78" y2="243.63" stroke="#6a6462" stroke-width="0.7"/>
<line x1="250.48" y1="235.13" x2="253.08" y2="235.13" stroke="#6a6462" stroke-width="0.7"/>
<line x1="250.48" y1="243.63" x2="253.08" y2="243.63" stroke="#6a6462" stroke-width="0.7"/>
<path d="M264.71 263.1V242.12H269.71V263.1" fill="#fff" stroke="#1f1a18" stroke-width="1"/>
<path d="M274.61 263.1V200.5H279.21V263.1" fill="#8caacf" stroke="#1f1a18" stroke-width="1"/>
<line x1="267.21" y1="237.37" x2="267.21" y2="245.87" stroke="#6a6462" stroke-width="0.7"/>
<line x1="265.91" y1="237.37" x2="268.51" y2="237.37" stroke="#6a6462" stroke-width="0.7"/>
<line x1="265.91" y1="245.87" x2="268.51" y2="245.87" stroke="#6a6462" stroke-width="0.7"/>
<line x1="276.91" y1="185.24" x2="276.91" y2="214.77" stroke="#6a6462" stroke-width="0.7"/>
<line x1="275.61" y1="185.24" x2="278.21" y2="185.24" stroke="#6a6462" stroke-width="0.7"/>
<line x1="275.61" y1="214.77" x2="278.21" y2="214.77" stroke="#6a6462" stroke-width="0.7"/>
<path d="M289.84 263.1V242.57H294.84V263.1" fill="#fff" stroke="#1f1a18" stroke-width="1"/>
<path d="M299.74 263.1V228.92H304.34V263.1" fill="#8caacf" stroke="#1f1a18" stroke-width="1"/>
<line x1="292.34" y1="237.15" x2="292.34" y2="246.99" stroke="#6a6462" stroke-width="0.7"/>
<line x1="291.04" y1="237.15" x2="293.64" y2="237.15" stroke="#6a6462" stroke-width="0.7"/>
<line x1="291.04" y1="246.99" x2="293.64" y2="246.99" stroke="#6a6462" stroke-width="0.7"/>
<line x1="302.04" y1="214.55" x2="302.04" y2="242.29" stroke="#6a6462" stroke-width="0.7"/>
<line x1="300.74" y1="214.55" x2="303.34" y2="214.55" stroke="#6a6462" stroke-width="0.7"/>
<line x1="300.74" y1="242.29" x2="303.34" y2="242.29" stroke="#6a6462" stroke-width="0.7"/>
<path d="M88.5 205.2V201.6H100.9V205.2" fill="none" stroke="#1f1a18" stroke-width="1"/>
<text x="94.7" y="196.75" font-size="7.6" text-anchor="middle">ns</text>
<path d="M113.63 191.9V188.3H126.03V191.9" fill="none" stroke="#1f1a18" stroke-width="1"/>
<text x="119.83" y="183.95" font-size="7.6" text-anchor="middle">ns</text>
<path d="M138.76 213.1V209.5H151.16V213.1" fill="none" stroke="#1f1a18" stroke-width="1"/>
<text x="144.96" y="204.95" font-size="7.6" text-anchor="middle">ns</text>
<path d="M163.89 229.9V226.3H176.29V229.9" fill="none" stroke="#1f1a18" stroke-width="1"/>
<text x="170.09" y="221.65" font-size="7.6" text-anchor="middle">ns</text>
<path d="M189.02 211.7V208.1H201.42V211.7" fill="none" stroke="#1f1a18" stroke-width="1"/>
<text x="195.22" y="209.6" font-size="12.31" text-anchor="middle">**</text>
<path d="M214.15 234.6V231H226.55V234.6" fill="none" stroke="#1f1a18" stroke-width="1"/>
<text x="220.35" y="226.35" font-size="7.6" text-anchor="middle">ns</text>
<path d="M239.28 231.9V228.3H251.68V231.9" fill="none" stroke="#1f1a18" stroke-width="1"/>
<text x="245.48" y="223.65" font-size="7.6" text-anchor="middle">ns</text>
<path d="M264.41 181.1V177.5H276.81V181.1" fill="none" stroke="#1f1a18" stroke-width="1"/>
<text x="270.61" y="178.8" font-size="12.31" text-anchor="middle">*</text>
<path d="M289.54 210.3V206.7H301.94V210.3" fill="none" stroke="#1f1a18" stroke-width="1"/>
<text x="295.74" y="202.05" font-size="7.6" text-anchor="middle">ns</text>
<line x1="85.2" y1="173" x2="85.2" y2="263.7" stroke="#1f1a18" stroke-width="1.2"/>
<line x1="81.2" y1="263.1" x2="85.2" y2="263.1" stroke="#1f1a18" stroke-width="1.2"/>
<text x="80.2" y="265.55" font-size="6.8" text-anchor="end">0</text>
<line x1="81.2" y1="240.73" x2="85.2" y2="240.73" stroke="#1f1a18" stroke-width="1.2"/>
<text x="80.2" y="243.17" font-size="6.8" text-anchor="end">1</text>
<line x1="81.2" y1="218.35" x2="85.2" y2="218.35" stroke="#1f1a18" stroke-width="1.2"/>
<text x="80.2" y="220.8" font-size="6.8" text-anchor="end">2</text>
<line x1="81.2" y1="195.97" x2="85.2" y2="195.97" stroke="#1f1a18" stroke-width="1.2"/>
<text x="80.2" y="198.42" font-size="6.8" text-anchor="end">3</text>
<line x1="81.2" y1="173.6" x2="85.2" y2="173.6" stroke="#1f1a18" stroke-width="1.2"/>
<text x="80.2" y="176.05" font-size="6.8" text-anchor="end">4</text>
<line x1="81.2" y1="263.1" x2="309" y2="263.1" stroke="#1f1a18" stroke-width="1.2"/>
<line x1="95.9" y1="263.1" x2="95.9" y2="266.7" stroke="#1f1a18" stroke-width="1.2"/>
<line x1="121.03" y1="263.1" x2="121.03" y2="266.7" stroke="#1f1a18" stroke-width="1.2"/>
<line x1="146.16" y1="263.1" x2="146.16" y2="266.7" stroke="#1f1a18" stroke-width="1.2"/>
<line x1="171.29" y1="263.1" x2="171.29" y2="266.7" stroke="#1f1a18" stroke-width="1.2"/>
<line x1="196.42" y1="263.1" x2="196.42" y2="266.7" stroke="#1f1a18" stroke-width="1.2"/>
<line x1="221.55" y1="263.1" x2="221.55" y2="266.7" stroke="#1f1a18" stroke-width="1.2"/>
<line x1="246.68" y1="263.1" x2="246.68" y2="266.7" stroke="#1f1a18" stroke-width="1.2"/>
<line x1="271.81" y1="263.1" x2="271.81" y2="266.7" stroke="#1f1a18" stroke-width="1.2"/>
<line x1="296.94" y1="263.1" x2="296.94" y2="266.7" stroke="#1f1a18" stroke-width="1.2"/>
<text x="97.7" y="272.1" font-size="7" text-anchor="end" font-weight="bold" transform="rotate(-45 97.7 272.1)">CCL2</text>
<text x="122.83" y="272.1" font-size="7" text-anchor="end" font-weight="bold" transform="rotate(-45 122.83 272.1)">CCL5</text>
<text x="147.96" y="272.1" font-size="7" text-anchor="end" font-weight="bold" transform="rotate(-45 147.96 272.1)">CCL20</text>
<text x="173.09" y="272.1" font-size="7" text-anchor="end" font-weight="bold" transform="rotate(-45 173.09 272.1)">CCL22</text>
<text x="198.22" y="272.1" font-size="7" text-anchor="end" font-weight="bold" transform="rotate(-45 198.22 272.1)">CXCL8</text>
<text x="223.35" y="272.1" font-size="7" text-anchor="end" font-weight="bold" transform="rotate(-45 223.35 272.1)">CXCL9</text>
<text x="248.48" y="272.1" font-size="7" text-anchor="end" font-weight="bold" transform="rotate(-45 248.48 272.1)">CXCL10</text>
<text x="273.61" y="272.1" font-size="7" text-anchor="end" font-weight="bold" transform="rotate(-45 273.61 272.1)">CXCL11</text>
<text x="298.74" y="272.1" font-size="7" text-anchor="end" font-weight="bold" transform="rotate(-45 298.74 272.1)">IL-17</text>
<text x="63.01" y="218.9" font-size="7.8" text-anchor="middle" transform="rotate(-90 63.01 218.9)">Relative mRNA level</text>
<text x="71.81" y="218.9" font-size="7.8" text-anchor="middle" transform="rotate(-90 71.81 218.9)">(<tspan font-style="italic">β-actin</tspan>)</text>
<rect x="293.75" y="178" width="8.2" height="3" fill="#fff" stroke="#1f1a18" stroke-width="1.3"/>
<text x="308" y="182.09" font-size="7.2">Control</text>
<rect x="293.75" y="190.4" width="8.2" height="3" fill="#8caacf" stroke="#1f1a18" stroke-width="1.3"/>
<text x="308" y="194.49" font-size="7.2">OTUD6B</text>
<path d="M403.9 263.1V253.04H408.3V263.1" fill="#fff" stroke="#1f1a18" stroke-width="1"/>
<path d="M413.6 263.1V216.18H417.8V263.1" fill="#8caacf" stroke="#1f1a18" stroke-width="1"/>
<line x1="406.1" y1="252.09" x2="406.1" y2="252.99" stroke="#6a6462" stroke-width="0.7"/>
<line x1="404.8" y1="252.09" x2="407.4" y2="252.09" stroke="#6a6462" stroke-width="0.7"/>
<line x1="404.8" y1="252.99" x2="407.4" y2="252.99" stroke="#6a6462" stroke-width="0.7"/>
<line x1="415.7" y1="209.05" x2="415.7" y2="222.31" stroke="#6a6462" stroke-width="0.7"/>
<line x1="414.4" y1="209.05" x2="417" y2="209.05" stroke="#6a6462" stroke-width="0.7"/>
<line x1="414.4" y1="222.31" x2="417" y2="222.31" stroke="#6a6462" stroke-width="0.7"/>
<path d="M429.01 263.1V254.39H433.41V263.1" fill="#fff" stroke="#1f1a18" stroke-width="1"/>
<path d="M438.71 263.1V263.04H442.91V263.1" fill="#8caacf" stroke="#1f1a18" stroke-width="1"/>
<line x1="431.21" y1="253.44" x2="431.21" y2="254.33" stroke="#6a6462" stroke-width="0.7"/>
<line x1="429.91" y1="253.44" x2="432.51" y2="253.44" stroke="#6a6462" stroke-width="0.7"/>
<line x1="429.91" y1="254.33" x2="432.51" y2="254.33" stroke="#6a6462" stroke-width="0.7"/>
<line x1="440.81" y1="262.43" x2="440.81" y2="262.65" stroke="#6a6462" stroke-width="0.7"/>
<line x1="439.51" y1="262.43" x2="442.11" y2="262.43" stroke="#6a6462" stroke-width="0.7"/>
<line x1="439.51" y1="262.65" x2="442.11" y2="262.65" stroke="#6a6462" stroke-width="0.7"/>
<path d="M454.12 263.1V253.04H458.52V263.1" fill="#fff" stroke="#1f1a18" stroke-width="1"/>
<path d="M463.82 263.1V200.56H468.02V263.1" fill="#8caacf" stroke="#1f1a18" stroke-width="1"/>
<line x1="456.32" y1="252.09" x2="456.32" y2="252.99" stroke="#6a6462" stroke-width="0.7"/>
<line x1="455.02" y1="252.09" x2="457.62" y2="252.09" stroke="#6a6462" stroke-width="0.7"/>
<line x1="455.02" y1="252.99" x2="457.62" y2="252.99" stroke="#6a6462" stroke-width="0.7"/>
<line x1="465.92" y1="193.88" x2="465.92" y2="206.24" stroke="#6a6462" stroke-width="0.7"/>
<line x1="464.62" y1="193.88" x2="467.22" y2="193.88" stroke="#6a6462" stroke-width="0.7"/>
<line x1="464.62" y1="206.24" x2="467.22" y2="206.24" stroke="#6a6462" stroke-width="0.7"/>
<path d="M479.23 263.1V250.56H483.63V263.1" fill="#fff" stroke="#1f1a18" stroke-width="1"/>
<path d="M488.93 263.1V247.42H493.13V263.1" fill="#8caacf" stroke="#1f1a18" stroke-width="1"/>
<line x1="481.43" y1="247.03" x2="481.43" y2="253.1" stroke="#6a6462" stroke-width="0.7"/>
<line x1="480.13" y1="247.03" x2="482.73" y2="247.03" stroke="#6a6462" stroke-width="0.7"/>
<line x1="480.13" y1="253.1" x2="482.73" y2="253.1" stroke="#6a6462" stroke-width="0.7"/>
<line x1="491.03" y1="243.66" x2="491.03" y2="250.18" stroke="#6a6462" stroke-width="0.7"/>
<line x1="489.73" y1="243.66" x2="492.33" y2="243.66" stroke="#6a6462" stroke-width="0.7"/>
<line x1="489.73" y1="250.18" x2="492.33" y2="250.18" stroke="#6a6462" stroke-width="0.7"/>
<path d="M504.34 263.1V253.6H508.74V263.1" fill="#fff" stroke="#1f1a18" stroke-width="1"/>
<path d="M514.04 263.1V243.71H518.24V263.1" fill="#8caacf" stroke="#1f1a18" stroke-width="1"/>
<line x1="506.54" y1="252.42" x2="506.54" y2="253.77" stroke="#6a6462" stroke-width="0.7"/>
<line x1="505.24" y1="252.42" x2="507.84" y2="252.42" stroke="#6a6462" stroke-width="0.7"/>
<line x1="505.24" y1="253.77" x2="507.84" y2="253.77" stroke="#6a6462" stroke-width="0.7"/>
<line x1="516.14" y1="242.87" x2="516.14" y2="243.55" stroke="#6a6462" stroke-width="0.7"/>
<line x1="514.84" y1="242.87" x2="517.44" y2="242.87" stroke="#6a6462" stroke-width="0.7"/>
<line x1="514.84" y1="243.55" x2="517.44" y2="243.55" stroke="#6a6462" stroke-width="0.7"/>
<path d="M529.45 263.1V250.23H533.85V263.1" fill="#fff" stroke="#1f1a18" stroke-width="1"/>
<path d="M539.15 263.1V258.99H543.35V263.1" fill="#8caacf" stroke="#1f1a18" stroke-width="1"/>
<line x1="531.65" y1="246.24" x2="531.65" y2="253.21" stroke="#6a6462" stroke-width="0.7"/>
<line x1="530.35" y1="246.24" x2="532.95" y2="246.24" stroke="#6a6462" stroke-width="0.7"/>
<line x1="530.35" y1="253.21" x2="532.95" y2="253.21" stroke="#6a6462" stroke-width="0.7"/>
<line x1="541.25" y1="256.92" x2="541.25" y2="260.07" stroke="#6a6462" stroke-width="0.7"/>
<line x1="539.95" y1="256.92" x2="542.55" y2="256.92" stroke="#6a6462" stroke-width="0.7"/>
<line x1="539.95" y1="260.07" x2="542.55" y2="260.07" stroke="#6a6462" stroke-width="0.7"/>
<path d="M554.56 263.1V252.92H558.96V263.1" fill="#fff" stroke="#1f1a18" stroke-width="1"/>
<path d="M564.26 263.1V263.04H568.46V263.1" fill="#8caacf" stroke="#1f1a18" stroke-width="1"/>
<line x1="556.76" y1="250.74" x2="556.76" y2="254.11" stroke="#6a6462" stroke-width="0.7"/>
<line x1="555.46" y1="250.74" x2="558.06" y2="250.74" stroke="#6a6462" stroke-width="0.7"/>
<line x1="555.46" y1="254.11" x2="558.06" y2="254.11" stroke="#6a6462" stroke-width="0.7"/>
<line x1="566.36" y1="262.43" x2="566.36" y2="262.65" stroke="#6a6462" stroke-width="0.7"/>
<line x1="565.06" y1="262.43" x2="567.66" y2="262.43" stroke="#6a6462" stroke-width="0.7"/>
<line x1="565.06" y1="262.65" x2="567.66" y2="262.65" stroke="#6a6462" stroke-width="0.7"/>
<path d="M579.67 263.1V253.26H584.07V263.1" fill="#fff" stroke="#1f1a18" stroke-width="1"/>
<path d="M589.37 263.1V263.26H593.57V263.1" fill="#8caacf" stroke="#1f1a18" stroke-width="1"/>
<line x1="581.87" y1="252.31" x2="581.87" y2="253.21" stroke="#6a6462" stroke-width="0.7"/>
<line x1="580.57" y1="252.31" x2="583.17" y2="252.31" stroke="#6a6462" stroke-width="0.7"/>
<line x1="580.57" y1="253.21" x2="583.17" y2="253.21" stroke="#6a6462" stroke-width="0.7"/>
<line x1="591.47" y1="262.65" x2="591.47" y2="262.88" stroke="#6a6462" stroke-width="0.7"/>
<line x1="590.17" y1="262.65" x2="592.77" y2="262.65" stroke="#6a6462" stroke-width="0.7"/>
<line x1="590.17" y1="262.88" x2="592.77" y2="262.88" stroke="#6a6462" stroke-width="0.7"/>
<path d="M604.78 263.1V255.17H609.18V263.1" fill="#fff" stroke="#1f1a18" stroke-width="1"/>
<path d="M614.48 263.1V263.26H618.68V263.1" fill="#8caacf" stroke="#1f1a18" stroke-width="1"/>
<line x1="606.98" y1="253.55" x2="606.98" y2="255.8" stroke="#6a6462" stroke-width="0.7"/>
<line x1="605.68" y1="253.55" x2="608.28" y2="253.55" stroke="#6a6462" stroke-width="0.7"/>
<line x1="605.68" y1="255.8" x2="608.28" y2="255.8" stroke="#6a6462" stroke-width="0.7"/>
<line x1="616.58" y1="262.65" x2="616.58" y2="262.88" stroke="#6a6462" stroke-width="0.7"/>
<line x1="615.28" y1="262.65" x2="617.88" y2="262.65" stroke="#6a6462" stroke-width="0.7"/>
<line x1="615.28" y1="262.88" x2="617.88" y2="262.88" stroke="#6a6462" stroke-width="0.7"/>
<path d="M403.2 204.7V201.1H415.6V204.7" fill="none" stroke="#1f1a18" stroke-width="1"/>
<text x="409.4" y="202.4" font-size="12.31" text-anchor="middle">**</text>
<path d="M430.21 248.6V245H442.61V248.6" fill="none" stroke="#1f1a18" stroke-width="1"/>
<text x="436.41" y="245.8" font-size="12.31" text-anchor="middle">***</text>
<path d="M453.72 190.1V186.5H466.12V190.1" fill="none" stroke="#1f1a18" stroke-width="1"/>
<text x="459.92" y="187.6" font-size="12.31" text-anchor="middle">***</text>
<path d="M478.73 240.5V236.9H491.13V240.5" fill="none" stroke="#1f1a18" stroke-width="1"/>
<text x="484.93" y="232.55" font-size="7.6" text-anchor="middle">ns</text>
<path d="M505.04 236.7V233.1H517.44V236.7" fill="none" stroke="#1f1a18" stroke-width="1"/>
<text x="511.24" y="234.3" font-size="12.31" text-anchor="middle">**</text>
<path d="M531.55 241.9V238.3H543.95V241.9" fill="none" stroke="#1f1a18" stroke-width="1"/>
<text x="537.75" y="234.45" font-size="7.6" text-anchor="middle">ns</text>
<path d="M556.36 244.1V240.5H568.76V244.1" fill="none" stroke="#1f1a18" stroke-width="1"/>
<text x="562.56" y="240.9" font-size="12.31" text-anchor="middle">*</text>
<path d="M581.47 248.1V244.5H593.87V248.1" fill="none" stroke="#1f1a18" stroke-width="1"/>
<text x="587.67" y="245" font-size="12.31" text-anchor="middle">****</text>
<path d="M607.18 246.8V243.2H619.58V246.8" fill="none" stroke="#1f1a18" stroke-width="1"/>
<text x="613.38" y="244.2" font-size="12.31" text-anchor="middle">**</text>
<line x1="399.9" y1="172.6" x2="399.9" y2="263.7" stroke="#1f1a18" stroke-width="1.2"/>
<line x1="395.9" y1="263.1" x2="399.9" y2="263.1" stroke="#1f1a18" stroke-width="1.2"/>
<text x="394.9" y="265.55" font-size="6.8" text-anchor="end">0</text>
<line x1="395.9" y1="240.62" x2="399.9" y2="240.62" stroke="#1f1a18" stroke-width="1.2"/>
<text x="394.9" y="243.07" font-size="6.8" text-anchor="end">2</text>
<line x1="395.9" y1="218.15" x2="399.9" y2="218.15" stroke="#1f1a18" stroke-width="1.2"/>
<text x="394.9" y="220.6" font-size="6.8" text-anchor="end">4</text>
<line x1="395.9" y1="195.68" x2="399.9" y2="195.68" stroke="#1f1a18" stroke-width="1.2"/>
<text x="394.9" y="198.12" font-size="6.8" text-anchor="end">6</text>
<line x1="395.9" y1="173.2" x2="399.9" y2="173.2" stroke="#1f1a18" stroke-width="1.2"/>
<text x="394.9" y="175.65" font-size="6.8" text-anchor="end">8</text>
<line x1="395.9" y1="263.1" x2="623.7" y2="263.1" stroke="#1f1a18" stroke-width="1.2"/>
<line x1="410.9" y1="263.1" x2="410.9" y2="266.7" stroke="#1f1a18" stroke-width="1.2"/>
<line x1="436.01" y1="263.1" x2="436.01" y2="266.7" stroke="#1f1a18" stroke-width="1.2"/>
<line x1="461.12" y1="263.1" x2="461.12" y2="266.7" stroke="#1f1a18" stroke-width="1.2"/>
<line x1="486.23" y1="263.1" x2="486.23" y2="266.7" stroke="#1f1a18" stroke-width="1.2"/>
<line x1="511.34" y1="263.1" x2="511.34" y2="266.7" stroke="#1f1a18" stroke-width="1.2"/>
<line x1="536.45" y1="263.1" x2="536.45" y2="266.7" stroke="#1f1a18" stroke-width="1.2"/>
<line x1="561.56" y1="263.1" x2="561.56" y2="266.7" stroke="#1f1a18" stroke-width="1.2"/>
<line x1="586.67" y1="263.1" x2="586.67" y2="266.7" stroke="#1f1a18" stroke-width="1.2"/>
<line x1="611.78" y1="263.1" x2="611.78" y2="266.7" stroke="#1f1a18" stroke-width="1.2"/>
<text x="412.7" y="272.1" font-size="7" text-anchor="end" font-weight="bold" transform="rotate(-45 412.7 272.1)">CCL2</text>
<text x="437.81" y="272.1" font-size="7" text-anchor="end" font-weight="bold" transform="rotate(-45 437.81 272.1)">CCL5</text>
<text x="462.92" y="272.1" font-size="7" text-anchor="end" font-weight="bold" transform="rotate(-45 462.92 272.1)">CCL20</text>
<text x="488.03" y="272.1" font-size="7" text-anchor="end" font-weight="bold" transform="rotate(-45 488.03 272.1)">CCL22</text>
<text x="513.14" y="272.1" font-size="7" text-anchor="end" font-weight="bold" transform="rotate(-45 513.14 272.1)">CXCL8</text>
<text x="538.25" y="272.1" font-size="7" text-anchor="end" font-weight="bold" transform="rotate(-45 538.25 272.1)">CXCL9</text>
<text x="563.36" y="272.1" font-size="7" text-anchor="end" font-weight="bold" transform="rotate(-45 563.36 272.1)">CXCL10</text>
<text x="588.47" y="272.1" font-size="7" text-anchor="end" font-weight="bold" transform="rotate(-45 588.47 272.1)">CXCL11</text>
<text x="613.58" y="272.1" font-size="7" text-anchor="end" font-weight="bold" transform="rotate(-45 613.58 272.1)">IL-17</text>
<text x="377.81" y="218.9" font-size="7.8" text-anchor="middle" transform="rotate(-90 377.81 218.9)">Relative mRNA level</text>
<text x="386.61" y="218.9" font-size="7.8" text-anchor="middle" transform="rotate(-90 386.61 218.9)">(<tspan font-style="italic">β-actin</tspan>)</text>
<rect x="598.45" y="177.8" width="8.2" height="3" fill="#fff" stroke="#1f1a18" stroke-width="1.3"/>
<text x="612.9" y="181.89" font-size="7.2">lenti-v2</text>
<rect x="598.45" y="190" width="8.2" height="3" fill="#8caacf" stroke="#1f1a18" stroke-width="1.3"/>
<text x="612.9" y="194.09" font-size="7.2">OTUD6B-sg</text>
<text transform="translate(6.52 316.5) scale(0.92 1)" font-size="14.2" font-weight="bold">B</text>
<path d="M52.05 420.2V366.75H68.05V420.2" fill="#fff" stroke="#1f1a18" stroke-width="1.8"/>
<path d="M78.85 420.2V343.06H94.55V420.2" fill="#8caacf" stroke="#1f1a18" stroke-width="1.8"/>
<line x1="60.05" y1="361.21" x2="60.05" y2="370.03" stroke="#4a4644" stroke-width="1"/>
<line x1="55.35" y1="361.21" x2="64.75" y2="361.21" stroke="#4a4644" stroke-width="1"/>
<line x1="55.35" y1="370.03" x2="64.75" y2="370.03" stroke="#4a4644" stroke-width="1"/>
<line x1="86.7" y1="333.34" x2="86.7" y2="350.99" stroke="#4a4644" stroke-width="1"/>
<line x1="82" y1="333.34" x2="91.4" y2="333.34" stroke="#4a4644" stroke-width="1"/>
<line x1="82" y1="350.99" x2="91.4" y2="350.99" stroke="#4a4644" stroke-width="1"/>
<path d="M60 328.7V324.9H86.7V328.7" fill="none" stroke="#1f1a18" stroke-width="1"/>
<text x="73.35" y="323.82" font-size="12.15" text-anchor="middle">*</text>
<line x1="42.1" y1="326.7" x2="42.1" y2="420.8" stroke="#1f1a18" stroke-width="1.2"/>
<line x1="38.1" y1="420.2" x2="42.1" y2="420.2" stroke="#1f1a18" stroke-width="1.2"/>
<text x="37.1" y="422.79" font-size="7.2" text-anchor="end">0</text>
<line x1="38.1" y1="396.98" x2="42.1" y2="396.98" stroke="#1f1a18" stroke-width="1.2"/>
<text x="37.1" y="399.57" font-size="7.2" text-anchor="end">5</text>
<line x1="38.1" y1="373.75" x2="42.1" y2="373.75" stroke="#1f1a18" stroke-width="1.2"/>
<text x="37.1" y="376.34" font-size="7.2" text-anchor="end">10</text>
<line x1="38.1" y1="350.52" x2="42.1" y2="350.52" stroke="#1f1a18" stroke-width="1.2"/>
<text x="37.1" y="353.12" font-size="7.2" text-anchor="end">15</text>
<line x1="38.1" y1="327.3" x2="42.1" y2="327.3" stroke="#1f1a18" stroke-width="1.2"/>
<text x="37.1" y="329.89" font-size="7.2" text-anchor="end">20</text>
<line x1="38.1" y1="420.2" x2="104.8" y2="420.2" stroke="#1f1a18" stroke-width="1.2"/>
<line x1="60" y1="420.2" x2="60" y2="423.8" stroke="#1f1a18" stroke-width="1.2"/>
<line x1="86.7" y1="420.2" x2="86.7" y2="423.8" stroke="#1f1a18" stroke-width="1.2"/>
<text x="57.8" y="431.02" font-size="7" text-anchor="middle" font-weight="bold">Control</text>
<text x="87.8" y="431.02" font-size="7" text-anchor="middle" font-weight="bold">OTUD6B</text>
<text x="17.65" y="372.5" font-size="8.2" text-anchor="middle" font-weight="bold" transform="rotate(-90 17.65 372.5)">Supernatant CXCL11</text>
<text x="28.7" y="372.5" font-size="8.6" text-anchor="middle" transform="rotate(-90 28.7 372.5)">(pg/mL)</text>
<path d="M159.45 420.4V347.49H175.75V420.4" fill="#fff" stroke="#1f1a18" stroke-width="1.8"/>
<path d="M186.15 420.4V365.1H202.05V420.4" fill="#8caacf" stroke="#1f1a18" stroke-width="1.8"/>
<line x1="167.6" y1="344.96" x2="167.6" y2="348.1" stroke="#4a4644" stroke-width="1"/>
<line x1="162.9" y1="344.96" x2="172.3" y2="344.96" stroke="#4a4644" stroke-width="1"/>
<line x1="162.9" y1="348.1" x2="172.3" y2="348.1" stroke="#4a4644" stroke-width="1"/>
<line x1="194.1" y1="359.55" x2="194.1" y2="368.22" stroke="#4a4644" stroke-width="1"/>
<line x1="189.4" y1="359.55" x2="198.8" y2="359.55" stroke="#4a4644" stroke-width="1"/>
<line x1="189.4" y1="368.22" x2="198.8" y2="368.22" stroke="#4a4644" stroke-width="1"/>
<path d="M167.6 339.4V335.4H194.1V339.4" fill="none" stroke="#1f1a18" stroke-width="1"/>
<text x="180.85" y="334.32" font-size="12.15" text-anchor="middle">*</text>
<line x1="149.4" y1="325.5" x2="149.4" y2="421" stroke="#1f1a18" stroke-width="1.2"/>
<line x1="145.4" y1="420.4" x2="149.4" y2="420.4" stroke="#1f1a18" stroke-width="1.2"/>
<text x="144.4" y="422.99" font-size="7.2" text-anchor="end">0</text>
<line x1="145.4" y1="388.97" x2="149.4" y2="388.97" stroke="#1f1a18" stroke-width="1.2"/>
<text x="144.4" y="391.56" font-size="7.2" text-anchor="end">5</text>
<line x1="145.4" y1="357.53" x2="149.4" y2="357.53" stroke="#1f1a18" stroke-width="1.2"/>
<text x="144.4" y="360.13" font-size="7.2" text-anchor="end">10</text>
<line x1="145.4" y1="326.1" x2="149.4" y2="326.1" stroke="#1f1a18" stroke-width="1.2"/>
<text x="144.4" y="328.69" font-size="7.2" text-anchor="end">15</text>
<line x1="145.4" y1="420.4" x2="212" y2="420.4" stroke="#1f1a18" stroke-width="1.2"/>
<line x1="167.6" y1="420.4" x2="167.6" y2="424" stroke="#1f1a18" stroke-width="1.2"/>
<line x1="194.1" y1="420.4" x2="194.1" y2="424" stroke="#1f1a18" stroke-width="1.2"/>
<text x="169.5" y="430.5" font-size="7.6" text-anchor="end" transform="rotate(-45 169.5 430.5)">pLKO.1</text>
<text x="196.5" y="430.5" font-size="7.6" text-anchor="end" transform="rotate(-45 196.5 430.5)">OTUD6B-sh1</text>
<text x="123.3" y="370.5" font-size="8.6" text-anchor="middle" transform="rotate(-90 123.3 370.5)">Supernatant CXCL11</text>
<text x="132.9" y="370.5" font-size="8.6" text-anchor="middle" transform="rotate(-90 132.9 370.5)">(pg/mL)</text>
<text x="115.5" y="448.5" font-size="12" text-anchor="middle" font-weight="bold">HCT116</text>
<text transform="translate(223.96 316.4) scale(0.92 1)" font-size="14.2" font-weight="bold">C</text>
<path d="M285.65 419.9V351.21H302.45V419.9" fill="#fff" stroke="#1f1a18" stroke-width="1.8"/>
<path d="M313.85 419.9V337.75H330.75V419.9" fill="#8caacf" stroke="#1f1a18" stroke-width="1.8"/>
<line x1="294.05" y1="347.41" x2="294.05" y2="353.2" stroke="#4a4644" stroke-width="1"/>
<line x1="289.35" y1="347.41" x2="298.75" y2="347.41" stroke="#4a4644" stroke-width="1"/>
<line x1="289.35" y1="353.2" x2="298.75" y2="353.2" stroke="#4a4644" stroke-width="1"/>
<line x1="322.3" y1="329.38" x2="322.3" y2="343.03" stroke="#4a4644" stroke-width="1"/>
<line x1="317.6" y1="329.38" x2="327" y2="329.38" stroke="#4a4644" stroke-width="1"/>
<line x1="317.6" y1="343.03" x2="327" y2="343.03" stroke="#4a4644" stroke-width="1"/>
<path d="M294 323.4V319.5H320.7V323.4" fill="none" stroke="#1f1a18" stroke-width="1"/>
<text x="307.35" y="318.52" font-size="12.15" text-anchor="middle">*</text>
<line x1="275.4" y1="321.5" x2="275.4" y2="420.5" stroke="#1f1a18" stroke-width="1.2"/>
<line x1="271.4" y1="419.9" x2="275.4" y2="419.9" stroke="#1f1a18" stroke-width="1.2"/>
<text x="270.4" y="422.49" font-size="7.2" text-anchor="end">0</text>
<line x1="271.4" y1="400.34" x2="275.4" y2="400.34" stroke="#1f1a18" stroke-width="1.2"/>
<text x="270.4" y="402.93" font-size="7.2" text-anchor="end">500</text>
<line x1="271.4" y1="380.78" x2="275.4" y2="380.78" stroke="#1f1a18" stroke-width="1.2"/>
<text x="270.4" y="383.37" font-size="7.2" text-anchor="end">1000</text>
<line x1="271.4" y1="361.22" x2="275.4" y2="361.22" stroke="#1f1a18" stroke-width="1.2"/>
<text x="270.4" y="363.81" font-size="7.2" text-anchor="end">1500</text>
<line x1="271.4" y1="341.66" x2="275.4" y2="341.66" stroke="#1f1a18" stroke-width="1.2"/>
<text x="270.4" y="344.25" font-size="7.2" text-anchor="end">2000</text>
<line x1="271.4" y1="322.1" x2="275.4" y2="322.1" stroke="#1f1a18" stroke-width="1.2"/>
<text x="270.4" y="324.69" font-size="7.2" text-anchor="end">2500</text>
<line x1="271.4" y1="419.9" x2="341.4" y2="419.9" stroke="#1f1a18" stroke-width="1.2"/>
<line x1="294" y1="419.9" x2="294" y2="423.5" stroke="#1f1a18" stroke-width="1.2"/>
<line x1="322.3" y1="419.9" x2="322.3" y2="423.5" stroke="#1f1a18" stroke-width="1.2"/>
<text x="290.2" y="431.52" font-size="7" text-anchor="middle" font-weight="bold">Control</text>
<text x="320.7" y="431.52" font-size="7" text-anchor="middle" font-weight="bold">OTUD6B</text>
<text x="239.19" y="369.9" font-size="8.3" text-anchor="middle" font-weight="bold" transform="rotate(-90 239.19 369.9)">Supernatant CXCL11</text>
<text x="249.69" y="369.9" font-size="8.3" text-anchor="middle" font-weight="bold" transform="rotate(-90 249.69 369.9)">(pg/mL)</text>
<path d="M395.75 419.2V336.41H411.85V419.2" fill="#fff" stroke="#1f1a18" stroke-width="1.8"/>
<path d="M422.95 419.2V345.37H439.05V419.2" fill="#8caacf" stroke="#1f1a18" stroke-width="1.8"/>
<line x1="403.8" y1="333.08" x2="403.8" y2="337.94" stroke="#4a4644" stroke-width="1"/>
<line x1="399.1" y1="333.08" x2="408.5" y2="333.08" stroke="#4a4644" stroke-width="1"/>
<line x1="399.1" y1="337.94" x2="408.5" y2="337.94" stroke="#4a4644" stroke-width="1"/>
<line x1="431" y1="341.29" x2="431" y2="347.64" stroke="#4a4644" stroke-width="1"/>
<line x1="426.3" y1="341.29" x2="435.7" y2="341.29" stroke="#4a4644" stroke-width="1"/>
<line x1="426.3" y1="347.64" x2="435.7" y2="347.64" stroke="#4a4644" stroke-width="1"/>
<path d="M404 327.4V323H431.3V327.4" fill="none" stroke="#1f1a18" stroke-width="1"/>
<text x="417.65" y="322.32" font-size="12.15" text-anchor="middle">*</text>
<line x1="386.2" y1="325.3" x2="386.2" y2="419.8" stroke="#1f1a18" stroke-width="1.2"/>
<line x1="382.2" y1="419.2" x2="386.2" y2="419.2" stroke="#1f1a18" stroke-width="1.2"/>
<text x="381.2" y="421.79" font-size="7.2" text-anchor="end">0</text>
<line x1="382.2" y1="395.88" x2="386.2" y2="395.88" stroke="#1f1a18" stroke-width="1.2"/>
<text x="381.2" y="398.47" font-size="7.2" text-anchor="end">500</text>
<line x1="382.2" y1="372.55" x2="386.2" y2="372.55" stroke="#1f1a18" stroke-width="1.2"/>
<text x="381.2" y="375.14" font-size="7.2" text-anchor="end">1000</text>
<line x1="382.2" y1="349.22" x2="386.2" y2="349.22" stroke="#1f1a18" stroke-width="1.2"/>
<text x="381.2" y="351.82" font-size="7.2" text-anchor="end">1500</text>
<line x1="382.2" y1="325.9" x2="386.2" y2="325.9" stroke="#1f1a18" stroke-width="1.2"/>
<text x="381.2" y="328.49" font-size="7.2" text-anchor="end">2000</text>
<line x1="382.2" y1="419.2" x2="448.8" y2="419.2" stroke="#1f1a18" stroke-width="1.2"/>
<line x1="403.8" y1="419.2" x2="403.8" y2="422.8" stroke="#1f1a18" stroke-width="1.2"/>
<line x1="431" y1="419.2" x2="431" y2="422.8" stroke="#1f1a18" stroke-width="1.2"/>
<text x="406" y="429.5" font-size="7.6" text-anchor="end" transform="rotate(-45 406 429.5)">lenti-v2</text>
<text x="433" y="429.5" font-size="7.6" text-anchor="end" transform="rotate(-45 433 429.5)">OTUD6B-sg</text>
<text x="352.19" y="369.9" font-size="8.3" text-anchor="middle" font-weight="bold" transform="rotate(-90 352.19 369.9)">Supernatant CXCL11</text>
<text x="362.29" y="369.9" font-size="8.3" text-anchor="middle" font-weight="bold" transform="rotate(-90 362.29 369.9)">(pg/mL)</text>
<text x="354.1" y="449" font-size="12" text-anchor="middle" font-weight="bold">SW480</text>
<text transform="translate(456.5 316.5) scale(0.92 1)" font-size="14.2" font-weight="bold">D</text>
<path d="M522.15 419.2V388.63H538.85V419.2" fill="#fff" stroke="#1f1a18" stroke-width="1.8"/>
<path d="M549.65 419.2V357.53H566.15V419.2" fill="#8caacf" stroke="#1f1a18" stroke-width="1.8"/>
<line x1="530.5" y1="383.93" x2="530.5" y2="391.14" stroke="#4a4644" stroke-width="1"/>
<line x1="525.8" y1="383.93" x2="535.2" y2="383.93" stroke="#4a4644" stroke-width="1"/>
<line x1="525.8" y1="391.14" x2="535.2" y2="391.14" stroke="#4a4644" stroke-width="1"/>
<line x1="557.9" y1="338.43" x2="557.9" y2="374.08" stroke="#4a4644" stroke-width="1"/>
<line x1="553.2" y1="338.43" x2="562.6" y2="338.43" stroke="#4a4644" stroke-width="1"/>
<line x1="553.2" y1="374.08" x2="562.6" y2="374.08" stroke="#4a4644" stroke-width="1"/>
<path d="M528.2 330V326.2H557.5V330" fill="none" stroke="#1f1a18" stroke-width="1"/>
<text x="542.85" y="325.82" font-size="12.15" text-anchor="middle">*</text>
<line x1="512.6" y1="323.8" x2="512.6" y2="419.8" stroke="#1f1a18" stroke-width="1.2"/>
<line x1="508.6" y1="419.2" x2="512.6" y2="419.2" stroke="#1f1a18" stroke-width="1.2"/>
<text x="507.6" y="421.79" font-size="7.2" text-anchor="end">0.0</text>
<line x1="508.6" y1="400.24" x2="512.6" y2="400.24" stroke="#1f1a18" stroke-width="1.2"/>
<text x="507.6" y="402.83" font-size="7.2" text-anchor="end">0.5</text>
<line x1="508.6" y1="381.28" x2="512.6" y2="381.28" stroke="#1f1a18" stroke-width="1.2"/>
<text x="507.6" y="383.87" font-size="7.2" text-anchor="end">1.0</text>
<line x1="508.6" y1="362.32" x2="512.6" y2="362.32" stroke="#1f1a18" stroke-width="1.2"/>
<text x="507.6" y="364.91" font-size="7.2" text-anchor="end">1.5</text>
<line x1="508.6" y1="343.36" x2="512.6" y2="343.36" stroke="#1f1a18" stroke-width="1.2"/>
<text x="507.6" y="345.95" font-size="7.2" text-anchor="end">2.0</text>
<line x1="508.6" y1="324.4" x2="512.6" y2="324.4" stroke="#1f1a18" stroke-width="1.2"/>
<text x="507.6" y="326.99" font-size="7.2" text-anchor="end">2.5</text>
<line x1="508.6" y1="419.2" x2="576.4" y2="419.2" stroke="#1f1a18" stroke-width="1.2"/>
<line x1="530.5" y1="419.2" x2="530.5" y2="422.8" stroke="#1f1a18" stroke-width="1.2"/>
<line x1="557.8" y1="419.2" x2="557.8" y2="422.8" stroke="#1f1a18" stroke-width="1.2"/>
<text x="529" y="431.26" font-size="7.4" text-anchor="middle">Control</text>
<text x="558.5" y="431.26" font-size="7.4" text-anchor="middle">Otud6b</text>
<text x="479.93" y="370" font-size="8.15" text-anchor="middle" font-weight="bold" transform="rotate(-90 479.93 370)">Relative mRNA level</text>
<text x="491.9" y="370" font-size="8.6" text-anchor="middle" font-weight="bold" transform="rotate(-90 491.9 370)">(<tspan font-style="italic">Cxcl11/β-actin</tspan>)</text>
<path d="M626.45 418.4V356.15H642.85V418.4" fill="#fff" stroke="#1f1a18" stroke-width="1.8"/>
<path d="M653.55 418.4V384.39H670.15V418.4" fill="#8caacf" stroke="#1f1a18" stroke-width="1.8"/>
<line x1="634.65" y1="333.35" x2="634.65" y2="375.88" stroke="#4a4644" stroke-width="1"/>
<line x1="629.95" y1="333.35" x2="639.35" y2="333.35" stroke="#4a4644" stroke-width="1"/>
<line x1="629.95" y1="375.88" x2="639.35" y2="375.88" stroke="#4a4644" stroke-width="1"/>
<line x1="661.85" y1="374.61" x2="661.85" y2="390.47" stroke="#4a4644" stroke-width="1"/>
<line x1="657.15" y1="374.61" x2="666.55" y2="374.61" stroke="#4a4644" stroke-width="1"/>
<line x1="657.15" y1="390.47" x2="666.55" y2="390.47" stroke="#4a4644" stroke-width="1"/>
<path d="M633.3 322.5V318.3H662.6V322.5" fill="none" stroke="#1f1a18" stroke-width="1"/>
<text x="647.95" y="318.52" font-size="12.15" text-anchor="middle">*</text>
<line x1="616.1" y1="322.6" x2="616.1" y2="419" stroke="#1f1a18" stroke-width="1.2"/>
<line x1="612.1" y1="418.4" x2="616.1" y2="418.4" stroke="#1f1a18" stroke-width="1.2"/>
<text x="611.1" y="420.99" font-size="7.2" text-anchor="end">0.0</text>
<line x1="612.1" y1="386.67" x2="616.1" y2="386.67" stroke="#1f1a18" stroke-width="1.2"/>
<text x="611.1" y="389.26" font-size="7.2" text-anchor="end">0.5</text>
<line x1="612.1" y1="354.93" x2="616.1" y2="354.93" stroke="#1f1a18" stroke-width="1.2"/>
<text x="611.1" y="357.53" font-size="7.2" text-anchor="end">1.0</text>
<line x1="612.1" y1="323.2" x2="616.1" y2="323.2" stroke="#1f1a18" stroke-width="1.2"/>
<text x="611.1" y="325.79" font-size="7.2" text-anchor="end">1.5</text>
<line x1="612.1" y1="418.4" x2="679.8" y2="418.4" stroke="#1f1a18" stroke-width="1.2"/>
<line x1="634.6" y1="418.4" x2="634.6" y2="422" stroke="#1f1a18" stroke-width="1.2"/>
<line x1="661.9" y1="418.4" x2="661.9" y2="422" stroke="#1f1a18" stroke-width="1.2"/>
<text x="632.5" y="431.26" font-size="7.4" text-anchor="middle">pLKO.1</text>
<text x="666.1" y="431.26" font-size="7.4" text-anchor="middle">Otud6b-sh</text>
<text x="584.23" y="364.2" font-size="8.15" text-anchor="middle" font-weight="bold" transform="rotate(-90 584.23 364.2)">Relative mRNA level</text>
<text x="597" y="364.2" font-size="8.6" text-anchor="middle" font-weight="bold" transform="rotate(-90 597 364.2)">(<tspan font-style="italic">Cxcl11/β-actin</tspan>)</text>
<text x="591.2" y="449" font-size="12" text-anchor="middle" font-weight="bold">MC38</text>
<text transform="translate(6.5 470.4) scale(0.92 1)" font-size="14.2" font-weight="bold">E</text>
<path d="M53.85 572.6V524.73H70.15V572.6" fill="#fff" stroke="#1f1a18" stroke-width="1.8"/>
<path d="M81.05 572.6V493.04H97.15V572.6" fill="#8caacf" stroke="#1f1a18" stroke-width="1.8"/>
<line x1="62" y1="519.79" x2="62" y2="526.31" stroke="#4a4644" stroke-width="1"/>
<line x1="57.3" y1="519.79" x2="66.7" y2="519.79" stroke="#4a4644" stroke-width="1"/>
<line x1="57.3" y1="526.31" x2="66.7" y2="526.31" stroke="#4a4644" stroke-width="1"/>
<line x1="89.1" y1="488.1" x2="89.1" y2="495.24" stroke="#4a4644" stroke-width="1"/>
<line x1="84.4" y1="488.1" x2="93.8" y2="488.1" stroke="#4a4644" stroke-width="1"/>
<line x1="84.4" y1="495.24" x2="93.8" y2="495.24" stroke="#4a4644" stroke-width="1"/>
<path d="M61.3 481.5V476.5H88.8V481.5" fill="none" stroke="#1f1a18" stroke-width="1"/>
<text x="75.05" y="476.22" font-size="12.15" text-anchor="middle">*</text>
<line x1="44.7" y1="478.8" x2="44.7" y2="573.2" stroke="#1f1a18" stroke-width="1.2"/>
<line x1="40.7" y1="572.6" x2="44.7" y2="572.6" stroke="#1f1a18" stroke-width="1.2"/>
<text x="39.7" y="575.19" font-size="7.2" text-anchor="end">0</text>
<line x1="40.7" y1="541.53" x2="44.7" y2="541.53" stroke="#1f1a18" stroke-width="1.2"/>
<text x="39.7" y="544.13" font-size="7.2" text-anchor="end">10</text>
<line x1="40.7" y1="510.47" x2="44.7" y2="510.47" stroke="#1f1a18" stroke-width="1.2"/>
<text x="39.7" y="513.06" font-size="7.2" text-anchor="end">20</text>
<line x1="40.7" y1="479.4" x2="44.7" y2="479.4" stroke="#1f1a18" stroke-width="1.2"/>
<text x="39.7" y="481.99" font-size="7.2" text-anchor="end">30</text>
<line x1="40.7" y1="572.6" x2="106.9" y2="572.6" stroke="#1f1a18" stroke-width="1.2"/>
<line x1="62" y1="572.6" x2="62" y2="576.2" stroke="#1f1a18" stroke-width="1.2"/>
<line x1="89.1" y1="572.6" x2="89.1" y2="576.2" stroke="#1f1a18" stroke-width="1.2"/>
<text x="62.2" y="584.52" font-size="7" text-anchor="middle" font-weight="bold">Control</text>
<text x="88.9" y="584.52" font-size="7" text-anchor="middle" font-weight="bold">Otud6b</text>
<text x="17.89" y="523.3" font-size="8.3" text-anchor="middle" font-weight="bold" transform="rotate(-90 17.89 523.3)">Supernatant CXCL11</text>
<text x="27.99" y="523.3" font-size="8.3" text-anchor="middle" font-weight="bold" transform="rotate(-90 27.99 523.3)">(pg/mL)</text>
<path d="M159.65 573.4V502.47H175.45V573.4" fill="#fff" stroke="#1f1a18" stroke-width="1.8"/>
<path d="M186.25 573.4V523.09H202.05V573.4" fill="#8caacf" stroke="#1f1a18" stroke-width="1.8"/>
<line x1="167.55" y1="494.73" x2="167.55" y2="507.3" stroke="#4a4644" stroke-width="1"/>
<line x1="162.85" y1="494.73" x2="172.25" y2="494.73" stroke="#4a4644" stroke-width="1"/>
<line x1="162.85" y1="507.3" x2="172.25" y2="507.3" stroke="#4a4644" stroke-width="1"/>
<line x1="194.15" y1="515.68" x2="194.15" y2="528.25" stroke="#4a4644" stroke-width="1"/>
<line x1="189.45" y1="515.68" x2="198.85" y2="515.68" stroke="#4a4644" stroke-width="1"/>
<line x1="189.45" y1="528.25" x2="198.85" y2="528.25" stroke="#4a4644" stroke-width="1"/>
<path d="M168 487.9V483.4H195.5V487.9" fill="none" stroke="#1f1a18" stroke-width="1"/>
<text x="181.75" y="482.72" font-size="12.15" text-anchor="middle">*</text>
<line x1="150" y1="479.7" x2="150" y2="574" stroke="#1f1a18" stroke-width="1.2"/>
<line x1="146" y1="573.4" x2="150" y2="573.4" stroke="#1f1a18" stroke-width="1.2"/>
<text x="145" y="575.99" font-size="7.2" text-anchor="end">0</text>
<line x1="146" y1="550.12" x2="150" y2="550.12" stroke="#1f1a18" stroke-width="1.2"/>
<text x="145" y="552.72" font-size="7.2" text-anchor="end">5</text>
<line x1="146" y1="526.85" x2="150" y2="526.85" stroke="#1f1a18" stroke-width="1.2"/>
<text x="145" y="529.44" font-size="7.2" text-anchor="end">10</text>
<line x1="146" y1="503.57" x2="150" y2="503.57" stroke="#1f1a18" stroke-width="1.2"/>
<text x="145" y="506.17" font-size="7.2" text-anchor="end">15</text>
<line x1="146" y1="480.3" x2="150" y2="480.3" stroke="#1f1a18" stroke-width="1.2"/>
<text x="145" y="482.89" font-size="7.2" text-anchor="end">20</text>
<line x1="146" y1="573.4" x2="212.1" y2="573.4" stroke="#1f1a18" stroke-width="1.2"/>
<line x1="167.5" y1="573.4" x2="167.5" y2="577" stroke="#1f1a18" stroke-width="1.2"/>
<line x1="194.2" y1="573.4" x2="194.2" y2="577" stroke="#1f1a18" stroke-width="1.2"/>
<text x="169.5" y="584" font-size="7.6" text-anchor="end" transform="rotate(-45 169.5 584)">pLKO.1</text>
<text x="196.5" y="584" font-size="7.6" text-anchor="end" transform="rotate(-45 196.5 584)">Otud6b-sh</text>
<text x="123.8" y="523.8" font-size="8.6" text-anchor="middle" transform="rotate(-90 123.8 523.8)">Supernatant Cxcl11</text>
<text x="133.8" y="523.8" font-size="8.6" text-anchor="middle" transform="rotate(-90 133.8 523.8)">(pg/mL)</text>
<text x="121" y="600.8" font-size="12" text-anchor="middle" font-weight="bold">MC38</text>
<text transform="translate(223.9 470.4) scale(0.92 1)" font-size="14.2" font-weight="bold">F</text>
<path d="M279.2 573.4V544.67H294.8V573.4" fill="#fff" stroke="#1f1a18" stroke-width="1.8"/>
<path d="M306.4 573.4V501H321.9V573.4" fill="#fff" stroke="#4f62c0" stroke-width="1.8"/>
<line x1="287" y1="525.44" x2="287" y2="561.14" stroke="#6a6462" stroke-width="1"/>
<line x1="282.75" y1="525.44" x2="291.25" y2="525.44" stroke="#6a6462" stroke-width="1"/>
<line x1="282.75" y1="561.14" x2="291.25" y2="561.14" stroke="#6a6462" stroke-width="1"/>
<line x1="314.15" y1="485.58" x2="314.15" y2="514.5" stroke="#4f62c0" stroke-width="1"/>
<line x1="309.9" y1="485.58" x2="318.4" y2="485.58" stroke="#4f62c0" stroke-width="1"/>
<line x1="309.9" y1="514.5" x2="318.4" y2="514.5" stroke="#4f62c0" stroke-width="1"/>
<path d="M286.9 476.9V472H314.6V476.9" fill="none" stroke="#1f1a18" stroke-width="1"/>
<text x="300.8" y="471.2" font-size="11" text-anchor="middle" font-weight="bold">* *</text>
<circle cx="291" cy="526.8" r="2.1" fill="#1f1a18"/>
<circle cx="283.4" cy="530.7" r="2.1" fill="#1f1a18"/>
<circle cx="286.9" cy="550.1" r="2.1" fill="#1f1a18"/>
<circle cx="286.9" cy="565.7" r="2.1" fill="#1f1a18"/>
<circle cx="314.6" cy="482.5" r="2.1" fill="#4f62c0"/>
<circle cx="314.6" cy="493" r="2.1" fill="#4f62c0"/>
<circle cx="310.6" cy="512.3" r="2.1" fill="#4f62c0"/>
<circle cx="318.5" cy="511.1" r="2.1" fill="#4f62c0"/>
<line x1="268.9" y1="477.6" x2="268.9" y2="574" stroke="#555150" stroke-width="1.2"/>
<line x1="264.9" y1="573.4" x2="268.9" y2="573.4" stroke="#555150" stroke-width="1.2"/>
<text x="263.9" y="575.99" font-size="7.2" text-anchor="end">0.8</text>
<line x1="264.9" y1="549.6" x2="268.9" y2="549.6" stroke="#555150" stroke-width="1.2"/>
<text x="263.9" y="552.19" font-size="7.2" text-anchor="end">1.0</text>
<line x1="264.9" y1="525.8" x2="268.9" y2="525.8" stroke="#555150" stroke-width="1.2"/>
<text x="263.9" y="528.39" font-size="7.2" text-anchor="end">1.2</text>
<line x1="264.9" y1="502" x2="268.9" y2="502" stroke="#555150" stroke-width="1.2"/>
<text x="263.9" y="504.59" font-size="7.2" text-anchor="end">1.4</text>
<line x1="264.9" y1="478.2" x2="268.9" y2="478.2" stroke="#555150" stroke-width="1.2"/>
<text x="263.9" y="480.79" font-size="7.2" text-anchor="end">1.6</text>
<line x1="264.9" y1="573.4" x2="332.1" y2="573.4" stroke="#555150" stroke-width="1.2"/>
<line x1="287" y1="573.4" x2="287" y2="577" stroke="#555150" stroke-width="1.2"/>
<line x1="314.2" y1="573.4" x2="314.2" y2="577" stroke="#555150" stroke-width="1.2"/>
<text x="285.3" y="584.16" font-size="7.4" text-anchor="middle">Control</text>
<text x="314.2" y="584.16" font-size="7.4" text-anchor="middle">Otud6b</text>
<text x="237.43" y="522" font-size="8.15" text-anchor="middle" font-weight="bold" transform="rotate(-90 237.43 522)">Relative mRNA level</text>
<text x="250.3" y="522" font-size="8.6" text-anchor="middle" font-weight="bold" transform="rotate(-90 250.3 522)">(<tspan font-style="italic">Otud6b/β-actin</tspan>)</text>
<path d="M389.2 574.6V537.1H404.8V574.6" fill="#fff" stroke="#1f1a18" stroke-width="1.8"/>
<path d="M416.4 574.6V504.94H431.9V574.6" fill="#fff" stroke="#4f62c0" stroke-width="1.8"/>
<line x1="397" y1="527.08" x2="397" y2="545.32" stroke="#6a6462" stroke-width="1"/>
<line x1="392.75" y1="527.08" x2="401.25" y2="527.08" stroke="#6a6462" stroke-width="1"/>
<line x1="392.75" y1="545.32" x2="401.25" y2="545.32" stroke="#6a6462" stroke-width="1"/>
<line x1="424.15" y1="484.84" x2="424.15" y2="522.04" stroke="#4f62c0" stroke-width="1"/>
<line x1="419.9" y1="484.84" x2="428.4" y2="484.84" stroke="#4f62c0" stroke-width="1"/>
<line x1="419.9" y1="522.04" x2="428.4" y2="522.04" stroke="#4f62c0" stroke-width="1"/>
<path d="M398 478.3V474.3H425.5V478.3" fill="none" stroke="#1f1a18" stroke-width="1"/>
<text x="411.75" y="473.62" font-size="12.15" text-anchor="middle">*</text>
<circle cx="397.1" cy="525.6" r="2.1" fill="#1f1a18"/>
<circle cx="393.1" cy="534.7" r="2.1" fill="#1f1a18"/>
<circle cx="401" cy="538.2" r="2.1" fill="#1f1a18"/>
<circle cx="397.1" cy="546.6" r="2.1" fill="#1f1a18"/>
<circle cx="424.6" cy="485.1" r="2.1" fill="#4f62c0"/>
<circle cx="424.6" cy="490.9" r="2.1" fill="#4f62c0"/>
<circle cx="420.6" cy="519.8" r="2.1" fill="#4f62c0"/>
<circle cx="428.5" cy="519.3" r="2.1" fill="#4f62c0"/>
<line x1="378.9" y1="478" x2="378.9" y2="575.2" stroke="#555150" stroke-width="1.2"/>
<line x1="374.9" y1="574.6" x2="378.9" y2="574.6" stroke="#555150" stroke-width="1.2"/>
<text x="373.9" y="577.19" font-size="7.2" text-anchor="end">0.0</text>
<line x1="374.9" y1="550.6" x2="378.9" y2="550.6" stroke="#555150" stroke-width="1.2"/>
<text x="373.9" y="553.19" font-size="7.2" text-anchor="end">0.5</text>
<line x1="374.9" y1="526.6" x2="378.9" y2="526.6" stroke="#555150" stroke-width="1.2"/>
<text x="373.9" y="529.19" font-size="7.2" text-anchor="end">1.0</text>
<line x1="374.9" y1="502.6" x2="378.9" y2="502.6" stroke="#555150" stroke-width="1.2"/>
<text x="373.9" y="505.19" font-size="7.2" text-anchor="end">1.5</text>
<line x1="374.9" y1="478.6" x2="378.9" y2="478.6" stroke="#555150" stroke-width="1.2"/>
<text x="373.9" y="481.19" font-size="7.2" text-anchor="end">2.0</text>
<line x1="374.9" y1="574.6" x2="442.1" y2="574.6" stroke="#555150" stroke-width="1.2"/>
<line x1="397.1" y1="574.6" x2="397.1" y2="578.2" stroke="#555150" stroke-width="1.2"/>
<line x1="424.4" y1="574.6" x2="424.4" y2="578.2" stroke="#555150" stroke-width="1.2"/>
<text x="394.6" y="584.66" font-size="7.4" text-anchor="middle">Control</text>
<text x="423.3" y="584.66" font-size="7.4" text-anchor="middle">Otud6b</text>
<text x="346.93" y="524.7" font-size="8.15" text-anchor="middle" font-weight="bold" transform="rotate(-90 346.93 524.7)">Relative mRNA level</text>
<text x="359.4" y="524.7" font-size="8.6" text-anchor="middle" font-weight="bold" transform="rotate(-90 359.4 524.7)">(<tspan font-style="italic">Cxcl11/β-actin</tspan>)</text>
<text transform="translate(455.8 470.3) scale(0.92 1)" font-size="14.2" font-weight="bold">G</text>
<path d="M519.2 571.5V544.04H534.4V571.5" fill="#fff" stroke="#1f1a18" stroke-width="1.8"/>
<path d="M545.5 571.5V516.42H560.9V571.5" fill="#fff" stroke="#4f62c0" stroke-width="1.8"/>
<line x1="526.8" y1="532.45" x2="526.8" y2="552.42" stroke="#6a6462" stroke-width="1"/>
<line x1="522.55" y1="532.45" x2="531.05" y2="532.45" stroke="#6a6462" stroke-width="1"/>
<line x1="522.55" y1="552.42" x2="531.05" y2="552.42" stroke="#6a6462" stroke-width="1"/>
<line x1="553.2" y1="500.27" x2="553.2" y2="529.51" stroke="#4f62c0" stroke-width="1"/>
<line x1="548.95" y1="500.27" x2="557.45" y2="500.27" stroke="#4f62c0" stroke-width="1"/>
<line x1="548.95" y1="529.51" x2="557.45" y2="529.51" stroke="#4f62c0" stroke-width="1"/>
<path d="M526.2 484.8V480.4H553.7V484.8" fill="none" stroke="#1f1a18" stroke-width="1"/>
<text x="539.95" y="479.32" font-size="12.15" text-anchor="middle">*</text>
<circle cx="522.7" cy="536.8" r="2.1" fill="#1f1a18"/>
<circle cx="530.6" cy="535.6" r="2.1" fill="#1f1a18"/>
<circle cx="530.6" cy="540" r="2.1" fill="#1f1a18"/>
<circle cx="526.6" cy="557.1" r="2.1" fill="#1f1a18"/>
<circle cx="553.4" cy="493.2" r="2.1" fill="#4f62c0"/>
<circle cx="553.4" cy="516.7" r="2.1" fill="#4f62c0"/>
<circle cx="549.3" cy="526" r="2.1" fill="#4f62c0"/>
<circle cx="557.2" cy="523" r="2.1" fill="#4f62c0"/>
<line x1="508.5" y1="477.6" x2="508.5" y2="572.1" stroke="#3a3634" stroke-width="1.2"/>
<line x1="504.5" y1="571.5" x2="508.5" y2="571.5" stroke="#3a3634" stroke-width="1.2"/>
<text x="503.5" y="574.09" font-size="7.2" text-anchor="end">0</text>
<line x1="504.5" y1="548.17" x2="508.5" y2="548.17" stroke="#3a3634" stroke-width="1.2"/>
<text x="503.5" y="550.77" font-size="7.2" text-anchor="end">5</text>
<line x1="504.5" y1="524.85" x2="508.5" y2="524.85" stroke="#3a3634" stroke-width="1.2"/>
<text x="503.5" y="527.44" font-size="7.2" text-anchor="end">10</text>
<line x1="504.5" y1="501.52" x2="508.5" y2="501.52" stroke="#3a3634" stroke-width="1.2"/>
<text x="503.5" y="504.12" font-size="7.2" text-anchor="end">15</text>
<line x1="504.5" y1="478.2" x2="508.5" y2="478.2" stroke="#3a3634" stroke-width="1.2"/>
<text x="503.5" y="480.79" font-size="7.2" text-anchor="end">20</text>
<line x1="504.5" y1="571.5" x2="570.5" y2="571.5" stroke="#3a3634" stroke-width="1.2"/>
<line x1="526.6" y1="571.5" x2="526.6" y2="575.1" stroke="#3a3634" stroke-width="1.2"/>
<line x1="553.5" y1="571.5" x2="553.5" y2="575.1" stroke="#3a3634" stroke-width="1.2"/>
<text x="526.6" y="583.46" font-size="7.4" text-anchor="middle">Control</text>
<text x="553.4" y="583.46" font-size="7.4" text-anchor="middle">Otud6b</text>
<text x="492.6" y="521.1" font-size="8.9" text-anchor="middle" transform="rotate(-90 492.6 521.1)">Serum Cxcl11(pg/mL)</text>
<text transform="translate(9.8 619.3) scale(0.92 1)" font-size="14.2" font-weight="bold">H</text>
<path d="M59.2 729.5V665.84H74.8V729.5" fill="#fff" stroke="#1f1a18" stroke-width="1.8"/>
<path d="M86.4 729.5V692.8H101.9V729.5" fill="#fff" stroke="#4f62c0" stroke-width="1.8"/>
<line x1="67" y1="648.56" x2="67" y2="679.79" stroke="#9a9594" stroke-width="1"/>
<line x1="62.75" y1="648.56" x2="71.25" y2="648.56" stroke="#9a9594" stroke-width="1"/>
<line x1="62.75" y1="679.79" x2="71.25" y2="679.79" stroke="#9a9594" stroke-width="1"/>
<line x1="94.15" y1="686.16" x2="94.15" y2="696.36" stroke="#4f62c0" stroke-width="1"/>
<line x1="89.9" y1="686.16" x2="98.4" y2="686.16" stroke="#4f62c0" stroke-width="1"/>
<line x1="89.9" y1="696.36" x2="98.4" y2="696.36" stroke="#4f62c0" stroke-width="1"/>
<path d="M66.9 640.3V636.6H96.4V640.3" fill="none" stroke="#1f1a18" stroke-width="1"/>
<text x="81.65" y="636.42" font-size="12.15" text-anchor="middle">*</text>
<circle cx="66.9" cy="646.4" r="2.1" fill="#1f1a18"/>
<circle cx="66.9" cy="660.5" r="2.1" fill="#1f1a18"/>
<circle cx="66.9" cy="667.5" r="2.1" fill="#1f1a18"/>
<circle cx="66.9" cy="684.5" r="2.1" fill="#1f1a18"/>
<circle cx="90.6" cy="687.1" r="2.1" fill="#4f62c0"/>
<circle cx="98.1" cy="685.9" r="2.1" fill="#4f62c0"/>
<circle cx="94.6" cy="689.7" r="2.1" fill="#4f62c0"/>
<circle cx="94.6" cy="699" r="2.1" fill="#4f62c0"/>
<line x1="48.1" y1="633.3" x2="48.1" y2="730.1" stroke="#6a6664" stroke-width="1.2"/>
<line x1="44.1" y1="729.5" x2="48.1" y2="729.5" stroke="#6a6664" stroke-width="1.2"/>
<text x="43.1" y="732.09" font-size="7.2" text-anchor="end">0.0</text>
<line x1="44.1" y1="697.63" x2="48.1" y2="697.63" stroke="#6a6664" stroke-width="1.2"/>
<text x="43.1" y="700.23" font-size="7.2" text-anchor="end">0.5</text>
<line x1="44.1" y1="665.77" x2="48.1" y2="665.77" stroke="#6a6664" stroke-width="1.2"/>
<text x="43.1" y="668.36" font-size="7.2" text-anchor="end">1.0</text>
<line x1="44.1" y1="633.9" x2="48.1" y2="633.9" stroke="#6a6664" stroke-width="1.2"/>
<text x="43.1" y="636.49" font-size="7.2" text-anchor="end">1.5</text>
<line x1="44.1" y1="729.5" x2="112.1" y2="729.5" stroke="#6a6664" stroke-width="1.2"/>
<line x1="66.9" y1="729.5" x2="66.9" y2="733.1" stroke="#6a6664" stroke-width="1.2"/>
<line x1="94.2" y1="729.5" x2="94.2" y2="733.1" stroke="#6a6664" stroke-width="1.2"/>
<text x="69" y="740" font-size="7.6" text-anchor="end" transform="rotate(-45 69 740)">pLKO.1</text>
<text x="96.5" y="740" font-size="7.6" text-anchor="end" transform="rotate(-45 96.5 740)">Otud6b-sh</text>
<text x="17.83" y="680" font-size="8.15" text-anchor="middle" font-weight="bold" transform="rotate(-90 17.83 680)">Relative mRNA level</text>
<text x="31.1" y="680" font-size="8.6" text-anchor="middle" font-weight="bold" transform="rotate(-90 31.1 680)">(<tspan font-style="italic">Otud6b/β-actin</tspan>)</text>
<path d="M167.8 729.5V666.86H183.9V729.5" fill="#fff" stroke="#1f1a18" stroke-width="1.8"/>
<path d="M195.5 729.5V687.7H211.1V729.5" fill="#fff" stroke="#4f62c0" stroke-width="1.8"/>
<line x1="175.85" y1="658.76" x2="175.85" y2="672.14" stroke="#6a6462" stroke-width="1"/>
<line x1="171.6" y1="658.76" x2="180.1" y2="658.76" stroke="#6a6462" stroke-width="1"/>
<line x1="171.6" y1="672.14" x2="180.1" y2="672.14" stroke="#6a6462" stroke-width="1"/>
<line x1="203.3" y1="675.33" x2="203.3" y2="697" stroke="#4f62c0" stroke-width="1"/>
<line x1="199.05" y1="675.33" x2="207.55" y2="675.33" stroke="#4f62c0" stroke-width="1"/>
<line x1="199.05" y1="697" x2="207.55" y2="697" stroke="#4f62c0" stroke-width="1"/>
<path d="M175.2 651.2V647.1H204.6V651.2" fill="none" stroke="#1f1a18" stroke-width="1"/>
<text x="189.9" y="647.52" font-size="12.15" text-anchor="middle">*</text>
<circle cx="172.2" cy="660.8" r="2.1" fill="#1f1a18"/>
<circle cx="179.7" cy="659.1" r="2.1" fill="#1f1a18"/>
<circle cx="172.2" cy="672.7" r="2.1" fill="#1f1a18"/>
<circle cx="179.7" cy="671.7" r="2.1" fill="#1f1a18"/>
<circle cx="203.4" cy="675.7" r="2.1" fill="#4f62c0"/>
<circle cx="203.4" cy="681" r="2.1" fill="#4f62c0"/>
<circle cx="203.4" cy="689.7" r="2.1" fill="#4f62c0"/>
<circle cx="203.4" cy="700.2" r="2.1" fill="#4f62c0"/>
<line x1="157.4" y1="633.3" x2="157.4" y2="730.1" stroke="#6a6664" stroke-width="1.2"/>
<line x1="153.4" y1="729.5" x2="157.4" y2="729.5" stroke="#6a6664" stroke-width="1.2"/>
<text x="152.4" y="732.09" font-size="7.2" text-anchor="end">0.0</text>
<line x1="153.4" y1="697.63" x2="157.4" y2="697.63" stroke="#6a6664" stroke-width="1.2"/>
<text x="152.4" y="700.23" font-size="7.2" text-anchor="end">0.5</text>
<line x1="153.4" y1="665.77" x2="157.4" y2="665.77" stroke="#6a6664" stroke-width="1.2"/>
<text x="152.4" y="668.36" font-size="7.2" text-anchor="end">1.0</text>
<line x1="153.4" y1="633.9" x2="157.4" y2="633.9" stroke="#6a6664" stroke-width="1.2"/>
<text x="152.4" y="636.49" font-size="7.2" text-anchor="end">1.5</text>
<line x1="153.4" y1="729.5" x2="221.6" y2="729.5" stroke="#6a6664" stroke-width="1.2"/>
<line x1="175.9" y1="729.5" x2="175.9" y2="733.1" stroke="#6a6664" stroke-width="1.2"/>
<line x1="203.3" y1="729.5" x2="203.3" y2="733.1" stroke="#6a6664" stroke-width="1.2"/>
<text x="178" y="740" font-size="7.6" text-anchor="end" transform="rotate(-45 178 740)">pLKO.1</text>
<text x="205.5" y="740" font-size="7.6" text-anchor="end" transform="rotate(-45 205.5 740)">Otud6b-sh</text>
<text x="126.63" y="678.3" font-size="8.15" text-anchor="middle" font-weight="bold" transform="rotate(-90 126.63 678.3)">Relative mRNA level</text>
<text x="139.4" y="678.3" font-size="8.6" text-anchor="middle" font-weight="bold" transform="rotate(-90 139.4 678.3)">(<tspan font-style="italic">Cxcl11/β-actin</tspan>)</text>
<text transform="translate(228.5 619.5) scale(0.92 1)" font-size="14.2" font-weight="bold">I</text>
<path d="M276.4 729.2V659.76H291.8V729.2" fill="#fff" stroke="#1f1a18" stroke-width="1.8"/>
<path d="M303.2 729.2V685.83H318.6V729.2" fill="#fff" stroke="#4f62c0" stroke-width="1.8"/>
<line x1="284.1" y1="642.9" x2="284.1" y2="673.24" stroke="#9a9594" stroke-width="1"/>
<line x1="279.85" y1="642.9" x2="288.35" y2="642.9" stroke="#9a9594" stroke-width="1"/>
<line x1="279.85" y1="673.24" x2="288.35" y2="673.24" stroke="#9a9594" stroke-width="1"/>
<line x1="310.9" y1="670.18" x2="310.9" y2="698.39" stroke="#4f62c0" stroke-width="1"/>
<line x1="306.65" y1="670.18" x2="315.15" y2="670.18" stroke="#4f62c0" stroke-width="1"/>
<line x1="306.65" y1="698.39" x2="315.15" y2="698.39" stroke="#4f62c0" stroke-width="1"/>
<path d="M283.4 635.1V631.3H310.6V635.1" fill="none" stroke="#1f1a18" stroke-width="1"/>
<text x="297" y="630.22" font-size="12.15" text-anchor="middle">*</text>
<circle cx="284.3" cy="641.8" r="2.1" fill="#1f1a18"/>
<circle cx="280.4" cy="655.8" r="2.1" fill="#1f1a18"/>
<circle cx="287.8" cy="655.8" r="2.1" fill="#1f1a18"/>
<circle cx="284.3" cy="678.9" r="2.1" fill="#1f1a18"/>
<circle cx="310.6" cy="669.5" r="2.1" fill="#4f62c0"/>
<circle cx="310.6" cy="675.4" r="2.1" fill="#4f62c0"/>
<circle cx="310.6" cy="693.5" r="2.1" fill="#4f62c0"/>
<circle cx="310.6" cy="699.6" r="2.1" fill="#4f62c0"/>
<line x1="266.3" y1="635.8" x2="266.3" y2="729.8" stroke="#2a2624" stroke-width="1.2"/>
<line x1="262.3" y1="729.2" x2="266.3" y2="729.2" stroke="#2a2624" stroke-width="1.2"/>
<text x="261.3" y="731.79" font-size="7.2" text-anchor="end">0</text>
<line x1="262.3" y1="710.64" x2="266.3" y2="710.64" stroke="#2a2624" stroke-width="1.2"/>
<text x="261.3" y="713.23" font-size="7.2" text-anchor="end">2</text>
<line x1="262.3" y1="692.08" x2="266.3" y2="692.08" stroke="#2a2624" stroke-width="1.2"/>
<text x="261.3" y="694.67" font-size="7.2" text-anchor="end">4</text>
<line x1="262.3" y1="673.52" x2="266.3" y2="673.52" stroke="#2a2624" stroke-width="1.2"/>
<text x="261.3" y="676.11" font-size="7.2" text-anchor="end">6</text>
<line x1="262.3" y1="654.96" x2="266.3" y2="654.96" stroke="#2a2624" stroke-width="1.2"/>
<text x="261.3" y="657.55" font-size="7.2" text-anchor="end">8</text>
<line x1="262.3" y1="636.4" x2="266.3" y2="636.4" stroke="#2a2624" stroke-width="1.2"/>
<text x="261.3" y="638.99" font-size="7.2" text-anchor="end">10</text>
<line x1="262.3" y1="729.2" x2="329" y2="729.2" stroke="#2a2624" stroke-width="1.2"/>
<line x1="284.1" y1="729.2" x2="284.1" y2="732.8" stroke="#2a2624" stroke-width="1.2"/>
<line x1="310.9" y1="729.2" x2="310.9" y2="732.8" stroke="#2a2624" stroke-width="1.2"/>
<text x="286" y="739.5" font-size="7.6" text-anchor="end" transform="rotate(-45 286 739.5)">pLKO.1</text>
<text x="313" y="739.5" font-size="7.6" text-anchor="end" transform="rotate(-45 313 739.5)">Otud6b-sh</text>
<text x="249.5" y="678.8" font-size="8.9" text-anchor="middle" transform="rotate(-90 249.5 678.8)">Serum Cxcl11(pg/mL)</text>
<text transform="translate(340.4 619.4) scale(0.92 1)" font-size="14.2" font-weight="bold">J</text>
<text x="411.8" y="622.3" font-size="10.3" text-anchor="middle">PBS</text>
<text x="495" y="622.3" font-size="10.3" text-anchor="middle">AMG487</text>
<text x="340" y="666.3" font-size="10.6">pHAGE</text>
<text x="340" y="741.6" font-size="10.6">Otud6b</text>
<g clip-path="url(#ph0)">
<rect x="379.3" y="628.6" width="69.3" height="69" fill="url(#bgTL)" stroke="none" stroke-width="1"/>
<g filter="url(#ltex)">
<path d="M382.7 655.4C383.4 653.22 384.55 649.43 386.4 647.5C388.25 645.57 391.17 644.58 393.8 643.8C396.43 643.02 399.58 643.32 402.2 642.8C404.82 642.28 407.05 641.15 409.5 640.7C411.95 640.25 415.32 639.58 416.9 640.1C418.48 640.62 417.6 641.78 419 643.8C420.4 645.82 423.02 649.92 425.3 652.2C427.58 654.48 430.07 656.1 432.7 657.5C435.33 658.9 438.75 659.47 441.1 660.6C443.45 661.73 446.45 663.42 446.8 664.3C447.15 665.18 444.85 665.28 443.2 665.9C441.55 666.52 438.65 666.78 436.9 668C435.15 669.22 434.28 671.8 432.7 673.2C431.12 674.6 430.22 675.68 427.4 676.4C424.58 677.12 418.78 676.62 415.8 677.5C412.82 678.38 411.95 680.57 409.5 681.7C407.05 682.83 404.25 684.3 401.1 684.3C397.95 684.3 393.13 683.02 390.6 681.7C388.07 680.38 387.22 678.52 385.9 676.4C384.58 674.28 383.32 671.63 382.7 669C382.08 666.37 382.2 662.87 382.2 660.6C382.2 658.33 382 657.58 382.7 655.4Z" fill="#c09080" stroke="none" stroke-width="1" filter="url(#b1)"/>
<path d="M385.55 655.36C386.2 653.33 387.27 649.81 388.99 648.01C390.71 646.22 393.43 645.3 395.88 644.57C398.32 643.84 401.25 644.12 403.69 643.64C406.12 643.16 408.2 642.11 410.48 641.69C412.75 641.27 415.89 640.65 417.36 641.13C418.83 641.61 418.01 642.7 419.31 644.57C420.61 646.45 423.05 650.26 425.17 652.38C427.29 654.51 429.6 656.01 432.05 657.31C434.5 658.62 437.68 659.14 439.86 660.2C442.05 661.25 444.84 662.82 445.17 663.64C445.49 664.46 443.35 664.55 441.82 665.13C440.28 665.7 437.59 665.95 435.96 667.08C434.33 668.21 433.52 670.61 432.05 671.91C430.58 673.22 429.74 674.22 427.12 674.89C424.5 675.56 419.11 675.09 416.34 675.91C413.56 676.73 412.75 678.77 410.48 679.82C408.2 680.87 405.59 682.24 402.66 682.24C399.73 682.24 395.26 681.04 392.9 679.82C390.54 678.59 389.75 676.86 388.53 674.89C387.3 672.92 386.13 670.46 385.55 668.01C384.98 665.56 385.09 662.3 385.09 660.2C385.09 658.09 384.9 657.39 385.55 655.36Z" fill="#85402a" stroke="none" stroke-width="1" filter="url(#b1)"/>
<path d="M390.06 655.71C390.62 653.97 391.54 650.94 393.02 649.39C394.5 647.85 396.84 647.06 398.94 646.43C401.05 645.81 403.57 646.05 405.66 645.63C407.76 645.22 409.54 644.31 411.5 643.95C413.46 643.59 416.16 643.06 417.42 643.47C418.69 643.89 417.98 644.82 419.1 646.43C420.22 648.05 422.32 651.33 424.14 653.15C425.97 654.98 427.96 656.27 430.06 657.39C432.17 658.51 434.9 658.97 436.78 659.87C438.66 660.78 441.06 662.13 441.34 662.83C441.62 663.54 439.78 663.62 438.46 664.11C437.14 664.61 434.82 664.82 433.42 665.79C432.02 666.77 431.33 668.83 430.06 669.95C428.8 671.07 428.08 671.94 425.82 672.51C423.57 673.09 418.93 672.69 416.54 673.39C414.16 674.1 413.46 675.85 411.5 676.75C409.54 677.66 407.3 678.83 404.78 678.83C402.26 678.83 398.41 677.81 396.38 676.75C394.36 675.7 393.68 674.21 392.62 672.51C391.57 670.82 390.56 668.7 390.06 666.59C389.57 664.49 389.66 661.69 389.66 659.87C389.66 658.06 389.5 657.46 390.06 655.71Z" fill="#633020" stroke="none" stroke-width="1" filter="url(#b2)"/>
<ellipse cx="398" cy="655" rx="3" ry="2.2" fill="#3e1a10" filter="url(#b1)" opacity="0.7"/>
<ellipse cx="412" cy="667" rx="4" ry="2.4" fill="#45200f" filter="url(#b1)" opacity="0.6"/>
<ellipse cx="436" cy="666" rx="5" ry="2.5" fill="#4a2214" filter="url(#b1)" opacity="0.5"/>
</g>
<path d="M382.7 655.4C383.4 653.22 384.55 649.43 386.4 647.5C388.25 645.57 391.17 644.58 393.8 643.8C396.43 643.02 399.58 643.32 402.2 642.8C404.82 642.28 407.05 641.15 409.5 640.7C411.95 640.25 415.32 639.58 416.9 640.1C418.48 640.62 417.6 641.78 419 643.8C420.4 645.82 423.02 649.92 425.3 652.2C427.58 654.48 430.07 656.1 432.7 657.5C435.33 658.9 438.75 659.47 441.1 660.6C443.45 661.73 446.45 663.42 446.8 664.3C447.15 665.18 444.85 665.28 443.2 665.9C441.55 666.52 438.65 666.78 436.9 668C435.15 669.22 434.28 671.8 432.7 673.2C431.12 674.6 430.22 675.68 427.4 676.4C424.58 677.12 418.78 676.62 415.8 677.5C412.82 678.38 411.95 680.57 409.5 681.7C407.05 682.83 404.25 684.3 401.1 684.3C397.95 684.3 393.13 683.02 390.6 681.7C388.07 680.38 387.22 678.52 385.9 676.4C384.58 674.28 383.32 671.63 382.7 669C382.08 666.37 382.2 662.87 382.2 660.6C382.2 658.33 382 657.58 382.7 655.4Z" fill="#fff" stroke="none" stroke-width="1" filter="url(#glint)" opacity="0.55"/>
</g>
<g clip-path="url(#ph1)">
<rect x="458.6" y="628.6" width="69" height="69" fill="#d2d5dc" stroke="none" stroke-width="1"/>
<g filter="url(#ltex)">
<path d="M467.5 644.9C468.37 642.98 469.95 640 471.7 638.6C473.45 637.2 475.9 636.68 478 636.5C480.1 636.32 482.55 636.63 484.3 637.5C486.05 638.37 487.1 641.17 488.5 641.7C489.9 642.23 490.6 640.7 492.7 640.7C494.8 640.7 498.28 641.62 501.1 641.7C503.92 641.78 506.97 641.02 509.6 641.2C512.23 641.38 514.8 641.83 516.9 642.8C519 643.77 521.23 645.08 522.2 647C523.17 648.92 523.05 652.03 522.7 654.3C522.35 656.57 520.18 658.32 520.1 660.6C520.02 662.88 521.5 665.72 522.2 668C522.9 670.28 524.22 672.02 524.3 674.3C524.38 676.58 523.75 679.07 522.7 681.7C521.65 684.33 519.48 688.53 518 690.1C516.52 691.67 515.03 691.8 513.8 691.1C512.57 690.4 512.18 687.12 510.6 685.9C509.02 684.68 507.1 683.98 504.3 683.8C501.5 683.62 496.78 684.28 493.8 684.8C490.82 685.32 489.03 686.2 486.4 686.9C483.77 687.6 480.8 689.17 478 689C475.2 688.83 472.05 687.82 469.6 685.9C467.15 683.98 464.62 680.32 463.3 677.5C461.98 674.68 461.52 671.47 461.7 669C461.88 666.53 463.52 664.8 464.4 662.7C465.28 660.6 466.65 658.5 467 656.4C467.35 654.3 466.42 652.02 466.5 650.1C466.58 648.18 466.63 646.82 467.5 644.9Z" fill="#b0664f" stroke="none" stroke-width="1" filter="url(#b1)"/>
<path d="M474.53 646.62C475.26 644.99 476.61 642.45 478.1 641.26C479.59 640.07 481.67 639.63 483.45 639.48C485.24 639.32 487.32 639.59 488.81 640.33C490.3 641.07 491.19 643.45 492.38 643.9C493.57 644.35 494.16 643.05 495.95 643.05C497.73 643.05 500.69 643.83 503.09 643.9C505.48 643.97 508.07 643.32 510.31 643.47C512.55 643.63 514.73 644.01 516.52 644.83C518.3 645.66 520.2 646.77 521.02 648.4C521.84 650.03 521.75 652.68 521.45 654.61C521.15 656.54 519.31 658.02 519.24 659.96C519.17 661.9 520.43 664.31 521.02 666.25C521.62 668.19 522.74 669.67 522.81 671.61C522.88 673.55 522.34 675.66 521.45 677.9C520.56 680.14 518.71 683.71 517.45 685.04C516.19 686.37 514.93 686.48 513.88 685.89C512.83 685.29 512.51 682.5 511.16 681.47C509.82 680.43 508.19 679.84 505.81 679.68C503.43 679.53 499.42 680.09 496.88 680.53C494.35 680.97 492.83 681.72 490.59 682.32C488.35 682.91 485.83 684.25 483.45 684.1C481.07 683.96 478.4 683.1 476.31 681.47C474.23 679.84 472.08 676.72 470.96 674.33C469.84 671.93 469.44 669.2 469.6 667.1C469.75 665.01 471.14 663.53 471.89 661.75C472.64 659.96 473.81 658.18 474.1 656.39C474.4 654.61 473.61 652.67 473.68 651.04C473.75 649.41 473.79 648.25 474.53 646.62Z" fill="#8a3b29" stroke="none" stroke-width="1" filter="url(#b2)"/>
<ellipse cx="508" cy="652" rx="10" ry="8" fill="#74301f" filter="url(#b2)" opacity="0.8"/>
<ellipse cx="479" cy="648" rx="8" ry="7" fill="#b36a58" filter="url(#b2)" opacity="0.7"/>
<ellipse cx="474.5" cy="675" rx="13.5" ry="14.5" fill="#cca291" filter="url(#b1)"/>
<ellipse cx="474" cy="673" rx="10" ry="10.5" fill="#d6b4a6" filter="url(#b2)"/>
</g>
<path d="M467.5 644.9C468.37 642.98 469.95 640 471.7 638.6C473.45 637.2 475.9 636.68 478 636.5C480.1 636.32 482.55 636.63 484.3 637.5C486.05 638.37 487.1 641.17 488.5 641.7C489.9 642.23 490.6 640.7 492.7 640.7C494.8 640.7 498.28 641.62 501.1 641.7C503.92 641.78 506.97 641.02 509.6 641.2C512.23 641.38 514.8 641.83 516.9 642.8C519 643.77 521.23 645.08 522.2 647C523.17 648.92 523.05 652.03 522.7 654.3C522.35 656.57 520.18 658.32 520.1 660.6C520.02 662.88 521.5 665.72 522.2 668C522.9 670.28 524.22 672.02 524.3 674.3C524.38 676.58 523.75 679.07 522.7 681.7C521.65 684.33 519.48 688.53 518 690.1C516.52 691.67 515.03 691.8 513.8 691.1C512.57 690.4 512.18 687.12 510.6 685.9C509.02 684.68 507.1 683.98 504.3 683.8C501.5 683.62 496.78 684.28 493.8 684.8C490.82 685.32 489.03 686.2 486.4 686.9C483.77 687.6 480.8 689.17 478 689C475.2 688.83 472.05 687.82 469.6 685.9C467.15 683.98 464.62 680.32 463.3 677.5C461.98 674.68 461.52 671.47 461.7 669C461.88 666.53 463.52 664.8 464.4 662.7C465.28 660.6 466.65 658.5 467 656.4C467.35 654.3 466.42 652.02 466.5 650.1C466.58 648.18 466.63 646.82 467.5 644.9Z" fill="#fff" stroke="none" stroke-width="1" filter="url(#glint)" opacity="0.55"/>
</g>
<g clip-path="url(#ph2)">
<rect x="379.3" y="704.1" width="69.3" height="68.3" fill="#d5d8df" stroke="none" stroke-width="1"/>
<g filter="url(#ltex)">
<path d="M384.3 732.5C385.45 730.22 387.15 729.27 389.6 728.3C392.05 727.33 396.55 727.75 399 726.7C401.45 725.65 402.2 724.18 404.3 722C406.4 719.82 409.32 715.7 411.6 713.6C413.88 711.5 416.07 710.72 418 709.4C419.93 708.08 421.98 705.88 423.2 705.7C424.42 705.52 424.6 706.47 425.3 708.3C426 710.13 426.17 714.6 427.4 716.7C428.63 718.8 431.3 719.32 432.7 720.9C434.1 722.48 435.1 724.1 435.8 726.2C436.5 728.3 435.67 731.58 436.9 733.5C438.13 735.42 441.8 735.95 443.2 737.7C444.6 739.45 445.3 741.53 445.3 744C445.3 746.47 444.08 750.03 443.2 752.5C442.32 754.97 441.58 756.88 440 758.8C438.42 760.72 436.15 762.6 433.7 764C431.25 765.4 428.45 766.58 425.3 767.2C422.15 767.82 418.3 767.88 414.8 767.7C411.3 767.52 407.8 766.72 404.3 766.1C400.8 765.48 396.78 765.05 393.8 764C390.82 762.95 388.15 761.72 386.4 759.8C384.65 757.88 383.92 755.47 383.3 752.5C382.68 749.53 382.53 745.33 382.7 742C382.87 738.67 383.15 734.78 384.3 732.5Z" fill="#8a4526" stroke="none" stroke-width="1" filter="url(#b1)"/>
<path d="M388.1 734.2C389.12 732.19 390.61 731.36 392.77 730.5C394.92 729.65 398.88 730.02 401.04 729.1C403.2 728.17 403.86 726.88 405.7 724.96C407.55 723.04 410.12 719.42 412.13 717.57C414.14 715.72 416.06 715.03 417.76 713.87C419.46 712.71 421.27 710.78 422.34 710.62C423.41 710.46 423.57 711.29 424.18 712.9C424.8 714.52 424.95 718.45 426.03 720.3C427.12 722.14 429.46 722.6 430.7 723.99C431.93 725.39 432.81 726.81 433.42 728.66C434.04 730.5 433.31 733.39 434.39 735.08C435.48 736.77 438.7 737.24 439.94 738.78C441.17 740.32 441.78 742.15 441.78 744.32C441.78 746.49 440.71 749.63 439.94 751.8C439.16 753.97 438.51 755.66 437.12 757.34C435.73 759.03 433.73 760.69 431.58 761.92C429.42 763.15 426.96 764.19 424.18 764.74C421.41 765.28 418.02 765.34 414.94 765.18C411.86 765.02 408.78 764.31 405.7 763.77C402.62 763.23 399.09 762.84 396.46 761.92C393.84 761 391.49 759.91 389.95 758.22C388.41 756.54 387.77 754.41 387.22 751.8C386.68 749.19 386.55 745.49 386.7 742.56C386.84 739.63 387.09 736.21 388.1 734.2Z" fill="#6e321c" stroke="none" stroke-width="1" filter="url(#b2)"/>
<ellipse cx="416" cy="727" rx="9" ry="10" fill="#80463a" filter="url(#b2)" opacity="0.7"/>
<ellipse cx="406" cy="743" rx="3" ry="2.5" fill="#c2a39c" filter="url(#b1)" opacity="0.8"/>
<ellipse cx="413" cy="743.5" rx="3" ry="2.5" fill="#c2a39c" filter="url(#b1)" opacity="0.8"/>
</g>
<path d="M384.3 732.5C385.45 730.22 387.15 729.27 389.6 728.3C392.05 727.33 396.55 727.75 399 726.7C401.45 725.65 402.2 724.18 404.3 722C406.4 719.82 409.32 715.7 411.6 713.6C413.88 711.5 416.07 710.72 418 709.4C419.93 708.08 421.98 705.88 423.2 705.7C424.42 705.52 424.6 706.47 425.3 708.3C426 710.13 426.17 714.6 427.4 716.7C428.63 718.8 431.3 719.32 432.7 720.9C434.1 722.48 435.1 724.1 435.8 726.2C436.5 728.3 435.67 731.58 436.9 733.5C438.13 735.42 441.8 735.95 443.2 737.7C444.6 739.45 445.3 741.53 445.3 744C445.3 746.47 444.08 750.03 443.2 752.5C442.32 754.97 441.58 756.88 440 758.8C438.42 760.72 436.15 762.6 433.7 764C431.25 765.4 428.45 766.58 425.3 767.2C422.15 767.82 418.3 767.88 414.8 767.7C411.3 767.52 407.8 766.72 404.3 766.1C400.8 765.48 396.78 765.05 393.8 764C390.82 762.95 388.15 761.72 386.4 759.8C384.65 757.88 383.92 755.47 383.3 752.5C382.68 749.53 382.53 745.33 382.7 742C382.87 738.67 383.15 734.78 384.3 732.5Z" fill="#fff" stroke="none" stroke-width="1" filter="url(#glint)" opacity="0.5"/>
</g>
<g clip-path="url(#ph3)">
<rect x="458.6" y="704.1" width="69" height="68.3" fill="#d8dadf" stroke="none" stroke-width="1"/>
<g filter="url(#ltex)">
<path d="M461 737.8C461.33 734.32 462.52 730.12 464 726.8C465.48 723.48 467.75 719.88 469.9 717.9C472.05 715.92 474.42 715.07 476.9 714.9C479.38 714.73 482.32 715.9 484.8 716.9C487.28 717.9 489.82 719.73 491.8 720.9C493.78 722.07 495.8 721.58 496.7 723.9C497.6 726.22 497.37 731.33 497.2 734.8C497.03 738.27 495.45 741.72 495.7 744.7C495.95 747.68 498.03 750.38 498.7 752.7C499.37 755.02 500.03 756.78 499.7 758.6C499.37 760.42 498.52 762.27 496.7 763.6C494.88 764.93 491.77 766.27 488.8 766.6C485.83 766.93 481.88 766.43 478.9 765.6C475.92 764.77 473.22 763.27 470.9 761.6C468.58 759.93 466.48 757.92 465 755.6C463.52 753.28 462.67 750.67 462 747.7C461.33 744.73 460.67 741.28 461 737.8Z" fill="#d79e8c" stroke="none" stroke-width="1" filter="url(#b1)"/>
<path d="M465.19 736.9C465.47 733.94 466.48 730.37 467.74 727.55C469 724.73 470.93 721.67 472.76 719.99C474.58 718.3 476.6 717.58 478.71 717.43C480.82 717.29 483.31 718.28 485.42 719.13C487.53 719.99 489.69 721.54 491.37 722.53C493.06 723.53 494.77 723.12 495.54 725.09C496.3 727.05 496.1 731.4 495.96 734.35C495.82 737.3 494.47 740.23 494.69 742.77C494.9 745.3 496.67 747.6 497.24 749.57C497.8 751.53 498.37 753.04 498.09 754.58C497.8 756.12 497.08 757.7 495.54 758.83C493.99 759.96 491.34 761.1 488.82 761.38C486.3 761.66 482.94 761.24 480.41 760.53C477.87 759.82 475.58 758.55 473.61 757.13C471.64 755.71 469.85 754 468.59 752.03C467.33 750.06 466.61 747.84 466.04 745.32C465.47 742.79 464.91 739.86 465.19 736.9Z" fill="#a85a42" stroke="none" stroke-width="1" filter="url(#b2)"/>
<ellipse cx="484.5" cy="737" rx="10" ry="14" fill="#7e3e2a" filter="url(#b2)"/>
<path d="M495.7 717.9C496.62 716.07 498.55 714.82 500.7 713.9C502.85 712.98 505.78 712.72 508.6 712.4C511.42 712.08 515.77 711.42 517.6 712C519.43 712.58 519.43 713.75 519.6 715.9C519.77 718.05 519.43 722.25 518.6 724.9C517.77 727.55 516.42 730.15 514.6 731.8C512.78 733.45 510.02 733.97 507.7 734.8C505.38 735.63 502.53 736.97 500.7 736.8C498.87 736.63 497.62 735.78 496.7 733.8C495.78 731.82 495.37 727.55 495.2 724.9C495.03 722.25 494.78 719.73 495.7 717.9Z" fill="#c27a62" stroke="none" stroke-width="1" filter="url(#b1)"/>
<path d="M497.94 717.53C498.67 716.06 500.22 715.06 501.94 714.33C503.66 713.6 506 713.38 508.26 713.13C510.51 712.88 513.99 712.34 515.46 712.81C516.92 713.28 516.92 714.21 517.06 715.93C517.19 717.65 516.92 721.01 516.26 723.13C515.59 725.25 514.51 727.33 513.06 728.65C511.6 729.97 509.39 730.38 507.54 731.05C505.68 731.72 503.4 732.78 501.94 732.65C500.47 732.52 499.47 731.84 498.74 730.25C498 728.66 497.67 725.25 497.54 723.13C497.4 721.01 497.2 719 497.94 717.53Z" fill="#b36248" stroke="none" stroke-width="1" filter="url(#b2)"/>
<path d="M496.7 737.8C498.03 735.65 500.72 735.47 503.7 734.8C506.68 734.13 511.45 733.3 514.6 733.8C517.75 734.3 520.78 735.98 522.6 737.8C524.42 739.62 525.18 742.22 525.5 744.7C525.82 747.18 525.48 750.38 524.5 752.7C523.52 755.02 521.92 757.37 519.6 758.6C517.28 759.83 513.42 760.1 510.6 760.1C507.78 760.1 504.68 759.52 502.7 758.6C500.72 757.68 499.87 756.42 498.7 754.6C497.53 752.78 496.03 750.5 495.7 747.7C495.37 744.9 495.37 739.95 496.7 737.8Z" fill="#e9c6b6" stroke="none" stroke-width="1" filter="url(#b1)"/>
<ellipse cx="511" cy="747" rx="9" ry="8" fill="#efd3c6" filter="url(#b2)"/>
<ellipse cx="478" cy="756" rx="6" ry="3" fill="#c8503e" filter="url(#b2)" opacity="0.5"/>
</g>
<path d="M461 737.8C461.33 734.32 462.52 730.12 464 726.8C465.48 723.48 467.75 719.88 469.9 717.9C472.05 715.92 474.42 715.07 476.9 714.9C479.38 714.73 482.32 715.9 484.8 716.9C487.28 717.9 489.82 719.73 491.8 720.9C493.78 722.07 495.8 721.58 496.7 723.9C497.6 726.22 497.37 731.33 497.2 734.8C497.03 738.27 495.45 741.72 495.7 744.7C495.95 747.68 498.03 750.38 498.7 752.7C499.37 755.02 500.03 756.78 499.7 758.6C499.37 760.42 498.52 762.27 496.7 763.6C494.88 764.93 491.77 766.27 488.8 766.6C485.83 766.93 481.88 766.43 478.9 765.6C475.92 764.77 473.22 763.27 470.9 761.6C468.58 759.93 466.48 757.92 465 755.6C463.52 753.28 462.67 750.67 462 747.7C461.33 744.73 460.67 741.28 461 737.8Z" fill="#fff" stroke="none" stroke-width="1" filter="url(#glint)" opacity="0.5"/>
</g>
<rect x="379.9" y="629.2" width="68.1" height="67.8" fill="none" stroke="#2b2523" stroke-width="1.3"/>
<rect x="459.2" y="629.2" width="67.8" height="67.8" fill="none" stroke="#2b2523" stroke-width="1.3"/>
<rect x="379.9" y="704.7" width="68.1" height="67.1" fill="none" stroke="#2b2523" stroke-width="1.3"/>
<rect x="459.2" y="704.7" width="67.8" height="67.1" fill="none" stroke="#2b2523" stroke-width="1.3"/>
<path d="M576.7 749.2V721.28H591.3V749.2" fill="#fff" stroke="#1f1a18" stroke-width="2.8"/>
<path d="M603.4 749.2V741.16H617.5V749.2" fill="#fff" stroke="#dda353" stroke-width="2.8"/>
<path d="M630.3 749.2V690.4H644V749.2" fill="#fff" stroke="#a3bddd" stroke-width="2.8"/>
<path d="M657 749.2V674.09H670.5V749.2" fill="#fff" stroke="#e08787" stroke-width="2.8"/>
<line x1="584" y1="709.73" x2="584" y2="729.61" stroke="#1f1a18" stroke-width="1.2"/>
<line x1="579.5" y1="709.73" x2="588.5" y2="709.73" stroke="#1f1a18" stroke-width="1.2"/>
<line x1="579.5" y1="729.61" x2="588.5" y2="729.61" stroke="#1f1a18" stroke-width="1.2"/>
<line x1="610.45" y1="733.61" x2="610.45" y2="743.05" stroke="#dda353" stroke-width="1.2"/>
<line x1="605.95" y1="733.61" x2="614.95" y2="733.61" stroke="#dda353" stroke-width="1.2"/>
<line x1="605.95" y1="743.05" x2="614.95" y2="743.05" stroke="#dda353" stroke-width="1.2"/>
<line x1="637.15" y1="678.84" x2="637.15" y2="697.58" stroke="#a3bddd" stroke-width="1.2"/>
<line x1="632.65" y1="678.84" x2="641.65" y2="678.84" stroke="#a3bddd" stroke-width="1.2"/>
<line x1="632.65" y1="697.58" x2="641.65" y2="697.58" stroke="#a3bddd" stroke-width="1.2"/>
<line x1="663.75" y1="656.96" x2="663.75" y2="688.57" stroke="#e08787" stroke-width="1.2"/>
<line x1="659.25" y1="656.96" x2="668.25" y2="656.96" stroke="#e08787" stroke-width="1.2"/>
<line x1="659.25" y1="688.57" x2="668.25" y2="688.57" stroke="#e08787" stroke-width="1.2"/>
<circle cx="583.6" cy="704.6" r="2.2" fill="#1f1a18"/>
<circle cx="577.5" cy="718.6" r="2.2" fill="#1f1a18"/>
<circle cx="590.4" cy="715.2" r="2.2" fill="#1f1a18"/>
<circle cx="577.5" cy="729" r="2.2" fill="#1f1a18"/>
<circle cx="590" cy="727.9" r="2.2" fill="#1f1a18"/>
<circle cx="604" cy="732.2" r="2.2" fill="#dda353"/>
<circle cx="616.4" cy="735.1" r="2.2" fill="#dda353"/>
<circle cx="604" cy="745.3" r="2.2" fill="#dda353"/>
<circle cx="616.4" cy="745.3" r="2.2" fill="#dda353"/>
<circle cx="610.3" cy="740.8" r="2.2" fill="#dda353"/>
<circle cx="637" cy="674.5" r="2.2" fill="#a3bddd"/>
<circle cx="637" cy="683.1" r="2.2" fill="#a3bddd"/>
<circle cx="630.7" cy="689.4" r="2.2" fill="#a3bddd"/>
<circle cx="643.1" cy="692.6" r="2.2" fill="#a3bddd"/>
<circle cx="637" cy="698.9" r="2.2" fill="#a3bddd"/>
<circle cx="663.5" cy="650.3" r="2.2" fill="#e08787"/>
<circle cx="663.5" cy="663.4" r="2.2" fill="#e08787"/>
<circle cx="657.2" cy="676.3" r="2.2" fill="#e08787"/>
<circle cx="669.9" cy="678.5" r="2.2" fill="#e08787"/>
<circle cx="663.5" cy="691.7" r="2.2" fill="#e08787"/>
<line x1="566.7" y1="634.1" x2="566.7" y2="749.9" stroke="#1f1a18" stroke-width="1.4"/>
<line x1="561.2" y1="749.2" x2="566.7" y2="749.2" stroke="#1f1a18" stroke-width="1.4"/>
<text x="560.2" y="752.15" font-size="8.2" text-anchor="end" font-weight="bold">0</text>
<line x1="561.2" y1="720.6" x2="566.7" y2="720.6" stroke="#1f1a18" stroke-width="1.4"/>
<text x="560.2" y="723.55" font-size="8.2" text-anchor="end" font-weight="bold">20</text>
<line x1="561.2" y1="692" x2="566.7" y2="692" stroke="#1f1a18" stroke-width="1.4"/>
<text x="560.2" y="694.95" font-size="8.2" text-anchor="end" font-weight="bold">40</text>
<line x1="561.2" y1="663.4" x2="566.7" y2="663.4" stroke="#1f1a18" stroke-width="1.4"/>
<text x="560.2" y="666.35" font-size="8.2" text-anchor="end" font-weight="bold">60</text>
<line x1="561.2" y1="634.8" x2="566.7" y2="634.8" stroke="#1f1a18" stroke-width="1.4"/>
<text x="560.2" y="637.75" font-size="8.2" text-anchor="end" font-weight="bold">80</text>
<line x1="561.2" y1="749.2" x2="681.2" y2="749.2" stroke="#1f1a18" stroke-width="1.4"/>
<line x1="584" y1="749.2" x2="584" y2="753.7" stroke="#1f1a18" stroke-width="1.4"/>
<line x1="610.5" y1="749.2" x2="610.5" y2="753.7" stroke="#1f1a18" stroke-width="1.4"/>
<line x1="637.2" y1="749.2" x2="637.2" y2="753.7" stroke="#1f1a18" stroke-width="1.4"/>
<line x1="663.8" y1="749.2" x2="663.8" y2="753.7" stroke="#1f1a18" stroke-width="1.4"/>
<path d="M583.2 697V690.5H607.6V697" fill="none" stroke="#1f1a18" stroke-width="1"/>
<text x="595.4" y="688.2" font-size="9" text-anchor="middle" font-weight="bold">* *</text>
<path d="M639.3 643.4V637.4H663.5V643.4" fill="none" stroke="#1f1a18" stroke-width="1"/>
<text x="651.4" y="634.6" font-size="7" text-anchor="middle">ns</text>
<text x="546.25" y="688.2" font-size="10.7" text-anchor="middle" font-weight="bold" transform="rotate(-90 546.25 688.2)">Metastasis nodules</text>
<text x="585.4" y="759.5" font-size="7.6" text-anchor="end" fill="#3a3634" transform="rotate(-45 585.4 759.5)" style="stroke:none">PBS+pHAGE</text>
<text x="611.9" y="759.5" font-size="7.6" text-anchor="end" fill="#3a3634" transform="rotate(-45 611.9 759.5)" style="stroke:none">PBS+Otud6b</text>
<text x="642" y="759.5" font-size="7.6" text-anchor="end" fill="#3a3634" transform="rotate(-45 642 759.5)" style="stroke:none">AMG487+pHAGE</text>
<text x="666.9" y="759.5" font-size="7.6" text-anchor="end" fill="#3a3634" transform="rotate(-45 666.9 759.5)" style="stroke:none">AMG487+Otud6b</text>
<text transform="translate(9.7 784.5) scale(0.92 1)" font-size="14.2" font-weight="bold">K</text>
<text x="91.1" y="793" font-size="10.3" text-anchor="middle">PBS</text>
<text x="196.2" y="793" font-size="10.3" text-anchor="middle">AMG487</text>
<text x="5" y="841.1" font-size="10.6">pHAGE</text>
<text x="5" y="914.7" font-size="10.6">Otud6b</text>
<g clip-path="url(#hk0)"><g filter="url(#tex)">
<rect x="46.1" y="798.6" width="92.6" height="68.9" fill="#c894c4" stroke="none" stroke-width="1"/>
<ellipse cx="92.6" cy="837.5" rx="24" ry="18.5" fill="#b890c4" filter="url(#soft2)"/>
<ellipse cx="92.6" cy="837.5" rx="21" ry="16" fill="#9c80bc" filter="url(#soft2)"/>
<ellipse cx="92.6" cy="837.5" rx="21.5" ry="16.5" fill="none" stroke="#86679f" stroke-width="2" opacity="0.6" filter="url(#soft)"/>
</g>
<path d="M45 803L49 805Q54 812 58 818L45 821Z" fill="#e8e8ee" stroke="none" stroke-width="1" filter="url(#soft)"/>
<path d="M110 869Q118 857 124 849Q130 841 140 837L140 869Z" fill="#e8e8ee" stroke="none" stroke-width="1" filter="url(#soft)"/>
<ellipse cx="122" cy="806.8" rx="2.5" ry="1.8" fill="#e8e8ee" filter="url(#soft)"/>
<ellipse cx="129.3" cy="809.6" rx="1.8" ry="1.6" fill="#e8e8ee" filter="url(#soft)"/>
</g>
<g clip-path="url(#hk1)"><g filter="url(#tex)">
<rect x="144.1" y="798.6" width="92.6" height="68.9" fill="#c894c4" stroke="none" stroke-width="1"/>
<ellipse cx="207" cy="836" rx="34" ry="20" transform="rotate(40 207 836)" fill="#9c80bc" filter="url(#soft2)"/>
<ellipse cx="219" cy="852" rx="16" ry="12" fill="#a086be" filter="url(#soft2)"/>
<ellipse cx="170" cy="848" rx="10" ry="8" fill="#b890c4" filter="url(#soft2)"/>
</g>
<path d="M190.6 797Q200 803 206.4 808.9Q214 816 219.3 823.2Q224 829 227.8 833.2Q232 838 238 843.2L238 797Z" fill="#e8e8ee" stroke="none" stroke-width="1" filter="url(#soft)"/>
<path d="M191 852L193 852L193.5 868L190.5 868Z" fill="#e8e8ee" stroke="none" stroke-width="1" filter="url(#soft)"/>
<ellipse cx="163.5" cy="855.4" rx="1.8" ry="1.5" fill="#e8e8ee" filter="url(#soft)"/>
</g>
<g clip-path="url(#hk2)"><g filter="url(#tex)">
<rect x="46.1" y="874.1" width="92.6" height="69.4" fill="#bc8cc2" stroke="none" stroke-width="1"/>
<ellipse cx="94.8" cy="917.8" rx="9" ry="6.6" fill="#9e84be" filter="url(#soft2)"/>
</g>
<ellipse cx="73.5" cy="926" rx="2" ry="1.6" fill="#e8e8ee" filter="url(#soft)"/>
<ellipse cx="111" cy="896" rx="1.5" ry="1.5" fill="#e8e8ee" filter="url(#soft)"/>
<ellipse cx="112" cy="942.5" rx="2.5" ry="1.5" fill="#e8e8ee" filter="url(#soft)"/>
<path d="M57 876L59 876L58 890L56.5 890Z" fill="#d8c0dc" stroke="none" stroke-width="1" filter="url(#soft)"/>
</g>
<g clip-path="url(#hk3)"><g filter="url(#tex)">
<rect x="144.1" y="874.1" width="92.6" height="69.4" fill="#c090c4" stroke="none" stroke-width="1"/>
<ellipse cx="210.7" cy="914.9" rx="22" ry="19" fill="#9c80bc" filter="url(#soft2)"/>
<ellipse cx="162" cy="893.5" rx="11.4" ry="10" fill="#a88cc2" filter="url(#soft2)"/>
</g>
<path d="M229.3 873Q227 880 227.8 886.3Q230 894 232.8 900.6Q235.5 908 235 914.9Q234.5 924 232.1 932.1Q230 938 227.8 945L238 945L238 873Z" fill="#e8e8ee" stroke="none" stroke-width="1" filter="url(#soft)"/>
<path d="M180 881L186 879L186.5 880L180.5 882.5Z" fill="#e8e8ee" stroke="none" stroke-width="1"/>
<path d="M176 897L179 896.5L178 899Z" fill="#e8e8ee" stroke="none" stroke-width="1"/>
</g>
<rect x="46.7" y="799.2" width="91.4" height="67.7" fill="none" stroke="#2b2523" stroke-width="1.3"/>
<rect x="144.7" y="799.2" width="91.4" height="67.7" fill="none" stroke="#2b2523" stroke-width="1.3"/>
<rect x="46.7" y="874.7" width="91.4" height="68.2" fill="none" stroke="#2b2523" stroke-width="1.3"/>
<rect x="144.7" y="874.7" width="91.4" height="68.2" fill="none" stroke="#2b2523" stroke-width="1.3"/>
<rect x="49.7" y="861.8" width="22.2" height="3.1" fill="#1a1210" stroke="none" stroke-width="1"/>
<rect x="147.7" y="861.8" width="22.2" height="3.1" fill="#1a1210" stroke="none" stroke-width="1"/>
<rect x="49.7" y="937.1" width="22.2" height="3.1" fill="#1a1210" stroke="none" stroke-width="1"/>
<rect x="147.7" y="937.1" width="22.2" height="3.1" fill="#1a1210" stroke="none" stroke-width="1"/>
<path d="M294.7 908.5V877.01H309V908.5" fill="#fff" stroke="#1f1a18" stroke-width="2.8"/>
<path d="M321.4 908.5V896.6H335.5V908.5" fill="#fff" stroke="#dda353" stroke-width="2.8"/>
<path d="M347.9 908.5V849.41H362V908.5" fill="#fff" stroke="#a3bddd" stroke-width="2.8"/>
<path d="M374.4 908.5V839.83H388.2V908.5" fill="#fff" stroke="#e08787" stroke-width="2.8"/>
<line x1="301.85" y1="867.17" x2="301.85" y2="883.48" stroke="#1f1a18" stroke-width="1.2"/>
<line x1="297.35" y1="867.17" x2="306.35" y2="867.17" stroke="#1f1a18" stroke-width="1.2"/>
<line x1="297.35" y1="883.48" x2="306.35" y2="883.48" stroke="#1f1a18" stroke-width="1.2"/>
<line x1="328.45" y1="891.2" x2="328.45" y2="899.49" stroke="#dda353" stroke-width="1.2"/>
<line x1="323.95" y1="891.2" x2="332.95" y2="891.2" stroke="#dda353" stroke-width="1.2"/>
<line x1="323.95" y1="899.49" x2="332.95" y2="899.49" stroke="#dda353" stroke-width="1.2"/>
<line x1="354.95" y1="838.43" x2="354.95" y2="857.59" stroke="#a3bddd" stroke-width="1.2"/>
<line x1="350.45" y1="838.43" x2="359.45" y2="838.43" stroke="#a3bddd" stroke-width="1.2"/>
<line x1="350.45" y1="857.59" x2="359.45" y2="857.59" stroke="#a3bddd" stroke-width="1.2"/>
<line x1="381.3" y1="821.13" x2="381.3" y2="854.02" stroke="#e08787" stroke-width="1.2"/>
<line x1="376.8" y1="821.13" x2="385.8" y2="821.13" stroke="#e08787" stroke-width="1.2"/>
<line x1="376.8" y1="854.02" x2="385.8" y2="854.02" stroke="#e08787" stroke-width="1.2"/>
<circle cx="301.7" cy="865.1" r="2.2" fill="#1f1a18"/>
<circle cx="295.2" cy="874.8" r="2.2" fill="#1f1a18"/>
<circle cx="308.5" cy="874.8" r="2.2" fill="#1f1a18"/>
<circle cx="301.7" cy="878.4" r="2.2" fill="#1f1a18"/>
<circle cx="301.7" cy="888" r="2.2" fill="#1f1a18"/>
<circle cx="321.7" cy="894" r="2.2" fill="#dda353"/>
<circle cx="334.5" cy="890.9" r="2.2" fill="#dda353"/>
<circle cx="321.7" cy="900.1" r="2.2" fill="#dda353"/>
<circle cx="327.7" cy="902" r="2.2" fill="#dda353"/>
<circle cx="334.5" cy="897.6" r="2.2" fill="#dda353"/>
<circle cx="354.9" cy="834.3" r="2.2" fill="#a3bddd"/>
<circle cx="348.2" cy="848.3" r="2.2" fill="#a3bddd"/>
<circle cx="361.9" cy="843.5" r="2.2" fill="#a3bddd"/>
<circle cx="348.2" cy="857.9" r="2.2" fill="#a3bddd"/>
<circle cx="361.9" cy="856.7" r="2.2" fill="#a3bddd"/>
<circle cx="381.2" cy="818.2" r="2.2" fill="#e08787"/>
<circle cx="381.2" cy="825.4" r="2.2" fill="#e08787"/>
<circle cx="375.9" cy="840.3" r="2.2" fill="#e08787"/>
<circle cx="381.2" cy="849" r="2.2" fill="#e08787"/>
<circle cx="381.2" cy="858.6" r="2.2" fill="#e08787"/>
<line x1="284" y1="793.4" x2="284" y2="909.2" stroke="#1f1a18" stroke-width="1.4"/>
<line x1="278.8" y1="908.5" x2="284" y2="908.5" stroke="#1f1a18" stroke-width="1.4"/>
<text x="277.8" y="911.45" font-size="8.2" text-anchor="end" font-weight="bold">0</text>
<line x1="278.8" y1="879.9" x2="284" y2="879.9" stroke="#1f1a18" stroke-width="1.4"/>
<text x="277.8" y="882.85" font-size="8.2" text-anchor="end" font-weight="bold">20</text>
<line x1="278.8" y1="851.3" x2="284" y2="851.3" stroke="#1f1a18" stroke-width="1.4"/>
<text x="277.8" y="854.25" font-size="8.2" text-anchor="end" font-weight="bold">40</text>
<line x1="278.8" y1="822.7" x2="284" y2="822.7" stroke="#1f1a18" stroke-width="1.4"/>
<text x="277.8" y="825.65" font-size="8.2" text-anchor="end" font-weight="bold">60</text>
<line x1="278.8" y1="794.1" x2="284" y2="794.1" stroke="#1f1a18" stroke-width="1.4"/>
<text x="277.8" y="797.05" font-size="8.2" text-anchor="end" font-weight="bold">80</text>
<line x1="278.8" y1="908.5" x2="400" y2="908.5" stroke="#1f1a18" stroke-width="1.4"/>
<line x1="301.8" y1="908.5" x2="301.8" y2="913" stroke="#1f1a18" stroke-width="1.4"/>
<line x1="328.4" y1="908.5" x2="328.4" y2="913" stroke="#1f1a18" stroke-width="1.4"/>
<line x1="355" y1="908.5" x2="355" y2="913" stroke="#1f1a18" stroke-width="1.4"/>
<line x1="381.3" y1="908.5" x2="381.3" y2="913" stroke="#1f1a18" stroke-width="1.4"/>
<path d="M301.7 855.5V849.5H326V855.5" fill="none" stroke="#1f1a18" stroke-width="1"/>
<text x="313.8" y="847.3" font-size="9" text-anchor="middle" font-weight="bold">* *</text>
<path d="M355.4 811V804.4H380.7V811" fill="none" stroke="#1f1a18" stroke-width="1"/>
<text x="368" y="801.3" font-size="7" text-anchor="middle">ns</text>
<text x="247.18" y="852.5" font-size="10.5" text-anchor="middle" font-weight="bold" transform="rotate(-90 247.18 852.5)">Relative metastasis</text>
<text x="264.08" y="852.5" font-size="10.5" text-anchor="middle" font-weight="bold" transform="rotate(-90 264.08 852.5)">nodules area(%)</text>
<text x="303.6" y="916.9" font-size="7.6" text-anchor="end" fill="#3a3634" transform="rotate(-45 303.6 916.9)" style="stroke:none">PBS+pHAGE</text>
<text x="330.9" y="916.9" font-size="7.6" text-anchor="end" fill="#3a3634" transform="rotate(-45 330.9 916.9)" style="stroke:none">PBS+Otud6b</text>
<text x="360.2" y="917.4" font-size="7.6" text-anchor="end" fill="#3a3634" transform="rotate(-45 360.2 917.4)" style="stroke:none">AMG487+pHAGE</text>
<text x="385.5" y="917.4" font-size="7.6" text-anchor="end" fill="#3a3634" transform="rotate(-45 385.5 917.4)" style="stroke:none">AMG487+Otud6b</text>
</svg>
</body></html>
